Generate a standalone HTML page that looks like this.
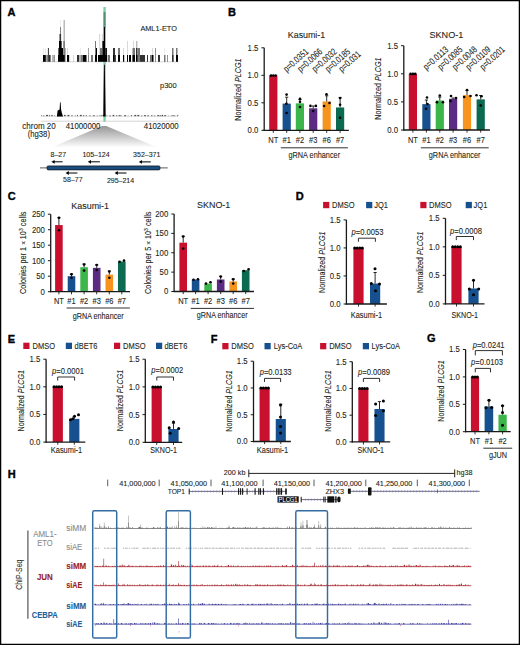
<!DOCTYPE html>
<html><head><meta charset="utf-8"><style>
html,body{margin:0;padding:0;background:#fff;}
body{width:520px;height:645px;overflow:hidden;}
svg{display:block;font-family:"Liberation Sans", sans-serif;}
</style></head><body>
<svg width="520" height="645" viewBox="0 0 520 645">
<rect x="0" y="0" width="520" height="645" fill="#fff"/>
<text x="7.6" y="15.6" font-size="11" fill="#000" font-weight="bold" stroke="#000" stroke-width="0.35">A</text>
<text x="228.0" y="15.8" font-size="11" fill="#000" font-weight="bold" stroke="#000" stroke-width="0.35">B</text>
<text x="7.7" y="200.1" font-size="11" fill="#000" font-weight="bold" stroke="#000" stroke-width="0.35">C</text>
<text x="295.8" y="199.9" font-size="11" fill="#000" font-weight="bold" stroke="#000" stroke-width="0.35">D</text>
<text x="7.8" y="342.7" font-size="11" fill="#000" font-weight="bold" stroke="#000" stroke-width="0.35">E</text>
<text x="210.8" y="342.5" font-size="11" fill="#000" font-weight="bold" stroke="#000" stroke-width="0.35">F</text>
<text x="427.0" y="342.4" font-size="11" fill="#000" font-weight="bold" stroke="#000" stroke-width="0.35">G</text>
<text x="7.8" y="477.5" font-size="11" fill="#000" font-weight="bold" stroke="#000" stroke-width="0.35">H</text>
<text x="287.8" y="38.4" font-size="9.2" fill="#231f20" textLength="37.4" lengthAdjust="spacingAndGlyphs" stroke="#231f20" stroke-width="0.1">Kasumi-1</text>
<text x="429.5" y="38.3" font-size="9.6" fill="#231f20" textLength="33.8" lengthAdjust="spacingAndGlyphs" stroke="#231f20" stroke-width="0.1">SKNO-1</text>
<rect x="269.20" y="75.30" width="8.20" height="55.00" fill="#c8102e"/>
<rect x="282.60" y="103.62" width="8.20" height="26.68" fill="#17508f"/>
<rect x="295.80" y="103.35" width="8.20" height="26.95" fill="#3cb54a"/>
<rect x="309.10" y="108.30" width="8.20" height="22.00" fill="#5b2a82"/>
<rect x="322.60" y="101.43" width="8.20" height="28.88" fill="#f7941d"/>
<rect x="336.00" y="107.48" width="8.20" height="22.83" fill="#0b6a4f"/>
<line x1="264.2" y1="47.8" x2="264.2" y2="130.9" stroke="#1a1a1a" stroke-width="1.3"/>
<line x1="263.59999999999997" y1="130.3" x2="348.9" y2="130.3" stroke="#1a1a1a" stroke-width="1.3"/>
<line x1="261.4" y1="130.3" x2="264.2" y2="130.3" stroke="#1a1a1a" stroke-width="1.0"/>
<text x="258.4" y="133.20000000000002" font-size="8.97" fill="#231f20" text-anchor="end" textLength="10.84" lengthAdjust="spacingAndGlyphs" stroke="#231f20" stroke-width="0.1">0.0</text>
<line x1="261.4" y1="102.80000000000001" x2="264.2" y2="102.80000000000001" stroke="#1a1a1a" stroke-width="1.0"/>
<text x="258.4" y="105.70000000000002" font-size="8.97" fill="#231f20" text-anchor="end" textLength="10.84" lengthAdjust="spacingAndGlyphs" stroke="#231f20" stroke-width="0.1">0.5</text>
<line x1="261.4" y1="75.30000000000001" x2="264.2" y2="75.30000000000001" stroke="#1a1a1a" stroke-width="1.0"/>
<text x="258.4" y="78.20000000000002" font-size="8.97" fill="#231f20" text-anchor="end" textLength="10.84" lengthAdjust="spacingAndGlyphs" stroke="#231f20" stroke-width="0.1">1.0</text>
<line x1="261.4" y1="47.8" x2="264.2" y2="47.8" stroke="#1a1a1a" stroke-width="1.0"/>
<text x="258.4" y="50.699999999999996" font-size="8.97" fill="#231f20" text-anchor="end" textLength="10.84" lengthAdjust="spacingAndGlyphs" stroke="#231f20" stroke-width="0.1">1.5</text>
<line x1="273.3" y1="130.3" x2="273.3" y2="132.9" stroke="#1a1a1a" stroke-width="0.9"/>
<circle cx="271.0" cy="75.6" r="1.3" fill="#000"/>
<circle cx="273.3" cy="75.6" r="1.3" fill="#000"/>
<circle cx="275.6" cy="75.6" r="1.3" fill="#000"/>
<line x1="286.7" y1="130.3" x2="286.7" y2="132.9" stroke="#1a1a1a" stroke-width="0.9"/>
<line x1="286.7" y1="103.625" x2="286.7" y2="97.2" stroke="#111" stroke-width="0.9"/>
<line x1="285.09999999999997" y1="97.2" x2="288.3" y2="97.2" stroke="#111" stroke-width="0.9"/>
<circle cx="286.6" cy="94.6" r="1.3" fill="#000"/>
<circle cx="286.4" cy="103.8" r="1.3" fill="#000"/>
<circle cx="286.6" cy="113.0" r="1.3" fill="#000"/>
<line x1="299.9" y1="130.3" x2="299.9" y2="132.9" stroke="#1a1a1a" stroke-width="0.9"/>
<line x1="299.9" y1="103.35000000000001" x2="299.9" y2="99.5" stroke="#111" stroke-width="0.9"/>
<line x1="298.29999999999995" y1="99.5" x2="301.5" y2="99.5" stroke="#111" stroke-width="0.9"/>
<circle cx="300.0" cy="98.8" r="1.3" fill="#000"/>
<circle cx="300.0" cy="101.8" r="1.3" fill="#000"/>
<circle cx="300.0" cy="107.0" r="1.3" fill="#000"/>
<line x1="313.2" y1="130.3" x2="313.2" y2="132.9" stroke="#1a1a1a" stroke-width="0.9"/>
<line x1="313.2" y1="108.30000000000001" x2="313.2" y2="106.0" stroke="#111" stroke-width="0.9"/>
<line x1="311.59999999999997" y1="106.0" x2="314.8" y2="106.0" stroke="#111" stroke-width="0.9"/>
<circle cx="310.4" cy="105.9" r="1.3" fill="#000"/>
<circle cx="315.9" cy="105.9" r="1.3" fill="#000"/>
<circle cx="313.2" cy="111.0" r="1.3" fill="#000"/>
<line x1="326.7" y1="130.3" x2="326.7" y2="132.9" stroke="#1a1a1a" stroke-width="0.9"/>
<line x1="326.7" y1="101.42500000000001" x2="326.7" y2="95.8" stroke="#111" stroke-width="0.9"/>
<line x1="325.09999999999997" y1="95.8" x2="328.3" y2="95.8" stroke="#111" stroke-width="0.9"/>
<circle cx="326.5" cy="94.3" r="1.3" fill="#000"/>
<circle cx="324.1" cy="106.0" r="1.3" fill="#000"/>
<circle cx="329.5" cy="103.0" r="1.3" fill="#000"/>
<line x1="340.1" y1="130.3" x2="340.1" y2="132.9" stroke="#1a1a1a" stroke-width="0.9"/>
<line x1="340.1" y1="107.47500000000001" x2="340.1" y2="97.7" stroke="#111" stroke-width="0.9"/>
<line x1="338.5" y1="97.7" x2="341.70000000000005" y2="97.7" stroke="#111" stroke-width="0.9"/>
<circle cx="340.1" cy="98.0" r="1.3" fill="#000"/>
<circle cx="340.1" cy="104.8" r="1.3" fill="#000"/>
<circle cx="340.1" cy="117.7" r="1.3" fill="#000"/>
<text transform="translate(241.0,89.5) rotate(-90)" x="0" y="0" font-size="9" fill="#231f20" stroke="#231f20" stroke-width="0.1" text-anchor="middle" textLength="62.3" lengthAdjust="spacingAndGlyphs">Normalized <tspan font-style="italic">PLCG1</tspan></text>
<text x="273.3" y="143.0" font-size="8.62" fill="#231f20" text-anchor="middle" textLength="10.0" lengthAdjust="spacingAndGlyphs" stroke="#231f20" stroke-width="0.1">NT</text>
<text x="286.7" y="143.0" font-size="8.62" fill="#231f20" text-anchor="middle" textLength="8.34" lengthAdjust="spacingAndGlyphs" stroke="#231f20" stroke-width="0.1">#1</text>
<text x="299.9" y="143.0" font-size="8.62" fill="#231f20" text-anchor="middle" textLength="8.34" lengthAdjust="spacingAndGlyphs" stroke="#231f20" stroke-width="0.1">#2</text>
<text x="313.2" y="143.0" font-size="8.62" fill="#231f20" text-anchor="middle" textLength="8.34" lengthAdjust="spacingAndGlyphs" stroke="#231f20" stroke-width="0.1">#3</text>
<text x="326.7" y="143.0" font-size="8.62" fill="#231f20" text-anchor="middle" textLength="8.34" lengthAdjust="spacingAndGlyphs" stroke="#231f20" stroke-width="0.1">#6</text>
<text x="340.1" y="143.0" font-size="8.62" fill="#231f20" text-anchor="middle" textLength="8.34" lengthAdjust="spacingAndGlyphs" stroke="#231f20" stroke-width="0.1">#7</text>
<line x1="280.8" y1="147.8" x2="347.9" y2="147.8" stroke="#1a1a1a" stroke-width="0.9"/>
<text x="314.3" y="157.7" font-size="8.9" fill="#231f20" text-anchor="middle" textLength="51.6" lengthAdjust="spacingAndGlyphs" stroke="#231f20" stroke-width="0.1">gRNA enhancer</text>
<text transform="translate(286.8,72.6) rotate(-42)" font-size="9.4" fill="#231f20" stroke="#231f20" stroke-width="0.1" textLength="30.0" lengthAdjust="spacingAndGlyphs">p=0.0351</text>
<text transform="translate(300.7,72.6) rotate(-42)" font-size="9.4" fill="#231f20" stroke="#231f20" stroke-width="0.1" textLength="30.0" lengthAdjust="spacingAndGlyphs">p=0.0066</text>
<text transform="translate(315.2,72.6) rotate(-42)" font-size="9.4" fill="#231f20" stroke="#231f20" stroke-width="0.1" textLength="30.0" lengthAdjust="spacingAndGlyphs">p=0.0032</text>
<text transform="translate(328.6,72.6) rotate(-42)" font-size="9.4" fill="#231f20" stroke="#231f20" stroke-width="0.1" textLength="30.0" lengthAdjust="spacingAndGlyphs">p=0.0185</text>
<text transform="translate(342.0,72.6) rotate(-42)" font-size="9.4" fill="#231f20" stroke="#231f20" stroke-width="0.1" textLength="26.2" lengthAdjust="spacingAndGlyphs">p=0.031</text>
<rect x="408.80" y="73.80" width="8.20" height="56.20" fill="#c8102e"/>
<rect x="422.30" y="104.15" width="8.20" height="25.85" fill="#17508f"/>
<rect x="435.70" y="100.50" width="8.20" height="29.50" fill="#3cb54a"/>
<rect x="449.00" y="98.81" width="8.20" height="31.19" fill="#5b2a82"/>
<rect x="462.90" y="95.16" width="8.20" height="34.84" fill="#f7941d"/>
<rect x="476.60" y="99.37" width="8.20" height="30.63" fill="#0b6a4f"/>
<line x1="403.8" y1="45.7" x2="403.8" y2="130.6" stroke="#1a1a1a" stroke-width="1.3"/>
<line x1="403.2" y1="130.0" x2="489.9" y2="130.0" stroke="#1a1a1a" stroke-width="1.3"/>
<line x1="401.0" y1="130.0" x2="403.8" y2="130.0" stroke="#1a1a1a" stroke-width="1.0"/>
<text x="398.0" y="132.9" font-size="8.97" fill="#231f20" text-anchor="end" textLength="10.84" lengthAdjust="spacingAndGlyphs" stroke="#231f20" stroke-width="0.1">0.0</text>
<line x1="401.0" y1="101.9" x2="403.8" y2="101.9" stroke="#1a1a1a" stroke-width="1.0"/>
<text x="398.0" y="104.80000000000001" font-size="8.97" fill="#231f20" text-anchor="end" textLength="10.84" lengthAdjust="spacingAndGlyphs" stroke="#231f20" stroke-width="0.1">0.5</text>
<line x1="401.0" y1="73.80000000000001" x2="403.8" y2="73.80000000000001" stroke="#1a1a1a" stroke-width="1.0"/>
<text x="398.0" y="76.70000000000002" font-size="8.97" fill="#231f20" text-anchor="end" textLength="10.84" lengthAdjust="spacingAndGlyphs" stroke="#231f20" stroke-width="0.1">1.0</text>
<line x1="401.0" y1="45.7" x2="403.8" y2="45.7" stroke="#1a1a1a" stroke-width="1.0"/>
<text x="398.0" y="48.6" font-size="8.97" fill="#231f20" text-anchor="end" textLength="10.84" lengthAdjust="spacingAndGlyphs" stroke="#231f20" stroke-width="0.1">1.5</text>
<line x1="412.9" y1="130.0" x2="412.9" y2="132.6" stroke="#1a1a1a" stroke-width="0.9"/>
<circle cx="410.6" cy="73.9" r="1.3" fill="#000"/>
<circle cx="412.9" cy="73.9" r="1.3" fill="#000"/>
<circle cx="415.2" cy="73.9" r="1.3" fill="#000"/>
<line x1="426.4" y1="130.0" x2="426.4" y2="132.6" stroke="#1a1a1a" stroke-width="0.9"/>
<line x1="426.4" y1="104.148" x2="426.4" y2="100.0" stroke="#111" stroke-width="0.9"/>
<line x1="424.79999999999995" y1="100.0" x2="428.0" y2="100.0" stroke="#111" stroke-width="0.9"/>
<circle cx="427.0" cy="97.5" r="1.3" fill="#000"/>
<circle cx="426.0" cy="108.8" r="1.3" fill="#000"/>
<circle cx="427.5" cy="104.0" r="1.3" fill="#000"/>
<line x1="439.8" y1="130.0" x2="439.8" y2="132.6" stroke="#1a1a1a" stroke-width="0.9"/>
<line x1="439.8" y1="100.495" x2="439.8" y2="97.0" stroke="#111" stroke-width="0.9"/>
<line x1="438.2" y1="97.0" x2="441.40000000000003" y2="97.0" stroke="#111" stroke-width="0.9"/>
<circle cx="439.8" cy="95.5" r="1.3" fill="#000"/>
<circle cx="437.0" cy="102.3" r="1.3" fill="#000"/>
<circle cx="443.0" cy="102.3" r="1.3" fill="#000"/>
<line x1="453.1" y1="130.0" x2="453.1" y2="132.6" stroke="#1a1a1a" stroke-width="0.9"/>
<line x1="453.1" y1="98.809" x2="453.1" y2="98.0" stroke="#111" stroke-width="0.9"/>
<line x1="451.5" y1="98.0" x2="454.70000000000005" y2="98.0" stroke="#111" stroke-width="0.9"/>
<circle cx="451.0" cy="96.0" r="1.3" fill="#000"/>
<circle cx="450.5" cy="101.0" r="1.3" fill="#000"/>
<circle cx="456.0" cy="98.0" r="1.3" fill="#000"/>
<line x1="467.0" y1="130.0" x2="467.0" y2="132.6" stroke="#1a1a1a" stroke-width="0.9"/>
<line x1="467.0" y1="95.156" x2="467.0" y2="90.5" stroke="#111" stroke-width="0.9"/>
<line x1="465.4" y1="90.5" x2="468.6" y2="90.5" stroke="#111" stroke-width="0.9"/>
<circle cx="467.0" cy="90.0" r="1.3" fill="#000"/>
<circle cx="464.2" cy="97.0" r="1.3" fill="#000"/>
<circle cx="470.5" cy="96.0" r="1.3" fill="#000"/>
<line x1="480.7" y1="130.0" x2="480.7" y2="132.6" stroke="#1a1a1a" stroke-width="0.9"/>
<line x1="480.7" y1="99.371" x2="480.7" y2="95.5" stroke="#111" stroke-width="0.9"/>
<line x1="479.09999999999997" y1="95.5" x2="482.3" y2="95.5" stroke="#111" stroke-width="0.9"/>
<circle cx="476.5" cy="95.3" r="1.3" fill="#000"/>
<circle cx="481.5" cy="96.3" r="1.3" fill="#000"/>
<circle cx="480.7" cy="105.5" r="1.3" fill="#000"/>
<text transform="translate(380.5,88.5) rotate(-90)" x="0" y="0" font-size="9" fill="#231f20" stroke="#231f20" stroke-width="0.1" text-anchor="middle" textLength="62.3" lengthAdjust="spacingAndGlyphs">Normalized <tspan font-style="italic">PLCG1</tspan></text>
<text x="412.9" y="142.8" font-size="8.62" fill="#231f20" text-anchor="middle" textLength="10.0" lengthAdjust="spacingAndGlyphs" stroke="#231f20" stroke-width="0.1">NT</text>
<text x="426.4" y="142.8" font-size="8.62" fill="#231f20" text-anchor="middle" textLength="8.34" lengthAdjust="spacingAndGlyphs" stroke="#231f20" stroke-width="0.1">#1</text>
<text x="439.8" y="142.8" font-size="8.62" fill="#231f20" text-anchor="middle" textLength="8.34" lengthAdjust="spacingAndGlyphs" stroke="#231f20" stroke-width="0.1">#2</text>
<text x="453.1" y="142.8" font-size="8.62" fill="#231f20" text-anchor="middle" textLength="8.34" lengthAdjust="spacingAndGlyphs" stroke="#231f20" stroke-width="0.1">#3</text>
<text x="467.0" y="142.8" font-size="8.62" fill="#231f20" text-anchor="middle" textLength="8.34" lengthAdjust="spacingAndGlyphs" stroke="#231f20" stroke-width="0.1">#6</text>
<text x="480.7" y="142.8" font-size="8.62" fill="#231f20" text-anchor="middle" textLength="8.34" lengthAdjust="spacingAndGlyphs" stroke="#231f20" stroke-width="0.1">#7</text>
<line x1="420.8" y1="147.8" x2="488.7" y2="147.8" stroke="#1a1a1a" stroke-width="0.9"/>
<text x="454.6" y="157.7" font-size="8.9" fill="#231f20" text-anchor="middle" textLength="51.6" lengthAdjust="spacingAndGlyphs" stroke="#231f20" stroke-width="0.1">gRNA enhancer</text>
<text transform="translate(426.6,70.5) rotate(-42)" font-size="9.4" fill="#231f20" stroke="#231f20" stroke-width="0.1" textLength="30.0" lengthAdjust="spacingAndGlyphs">p=0.0113</text>
<text transform="translate(440.9,70.5) rotate(-42)" font-size="9.4" fill="#231f20" stroke="#231f20" stroke-width="0.1" textLength="30.0" lengthAdjust="spacingAndGlyphs">p=0.0085</text>
<text transform="translate(455.4,70.5) rotate(-42)" font-size="9.4" fill="#231f20" stroke="#231f20" stroke-width="0.1" textLength="30.0" lengthAdjust="spacingAndGlyphs">p=0.0048</text>
<text transform="translate(469.0,70.5) rotate(-42)" font-size="9.4" fill="#231f20" stroke="#231f20" stroke-width="0.1" textLength="30.0" lengthAdjust="spacingAndGlyphs">p=0.0109</text>
<text transform="translate(483.2,70.5) rotate(-42)" font-size="9.4" fill="#231f20" stroke="#231f20" stroke-width="0.1" textLength="30.0" lengthAdjust="spacingAndGlyphs">p=0.0201</text>
<text x="71.3" y="208.7" font-size="9.2" fill="#231f20" textLength="37.7" lengthAdjust="spacingAndGlyphs" stroke="#231f20" stroke-width="0.1">Kasumi-1</text>
<text x="197.1" y="208.4" font-size="9.6" fill="#231f20" textLength="33.2" lengthAdjust="spacingAndGlyphs" stroke="#231f20" stroke-width="0.1">SKNO-1</text>
<rect x="55.10" y="225.05" width="7.60" height="66.65" fill="#c8102e"/>
<rect x="67.70" y="276.20" width="7.60" height="15.50" fill="#17508f"/>
<rect x="80.30" y="267.21" width="7.60" height="24.49" fill="#3cb54a"/>
<rect x="92.90" y="267.83" width="7.60" height="23.87" fill="#5b2a82"/>
<rect x="105.50" y="274.65" width="7.60" height="17.05" fill="#f7941d"/>
<rect x="118.00" y="261.47" width="7.60" height="30.23" fill="#0b6a4f"/>
<line x1="50.7" y1="214.2" x2="50.7" y2="292.3" stroke="#1a1a1a" stroke-width="1.3"/>
<line x1="50.1" y1="291.7" x2="130.0" y2="291.7" stroke="#1a1a1a" stroke-width="1.3"/>
<line x1="47.900000000000006" y1="291.7" x2="50.7" y2="291.7" stroke="#1a1a1a" stroke-width="1.0"/>
<text x="44.900000000000006" y="294.59999999999997" font-size="8.97" fill="#231f20" text-anchor="end" textLength="4.34" lengthAdjust="spacingAndGlyphs" stroke="#231f20" stroke-width="0.1">0</text>
<line x1="47.900000000000006" y1="276.2" x2="50.7" y2="276.2" stroke="#1a1a1a" stroke-width="1.0"/>
<text x="44.900000000000006" y="279.09999999999997" font-size="8.97" fill="#231f20" text-anchor="end" textLength="8.68" lengthAdjust="spacingAndGlyphs" stroke="#231f20" stroke-width="0.1">50</text>
<line x1="47.900000000000006" y1="260.7" x2="50.7" y2="260.7" stroke="#1a1a1a" stroke-width="1.0"/>
<text x="44.900000000000006" y="263.59999999999997" font-size="8.97" fill="#231f20" text-anchor="end" textLength="13.01" lengthAdjust="spacingAndGlyphs" stroke="#231f20" stroke-width="0.1">100</text>
<line x1="47.900000000000006" y1="245.2" x2="50.7" y2="245.2" stroke="#1a1a1a" stroke-width="1.0"/>
<text x="44.900000000000006" y="248.1" font-size="8.97" fill="#231f20" text-anchor="end" textLength="13.01" lengthAdjust="spacingAndGlyphs" stroke="#231f20" stroke-width="0.1">150</text>
<line x1="47.900000000000006" y1="229.7" x2="50.7" y2="229.7" stroke="#1a1a1a" stroke-width="1.0"/>
<text x="44.900000000000006" y="232.6" font-size="8.97" fill="#231f20" text-anchor="end" textLength="13.01" lengthAdjust="spacingAndGlyphs" stroke="#231f20" stroke-width="0.1">200</text>
<line x1="47.900000000000006" y1="214.2" x2="50.7" y2="214.2" stroke="#1a1a1a" stroke-width="1.0"/>
<text x="44.900000000000006" y="217.1" font-size="8.97" fill="#231f20" text-anchor="end" textLength="13.01" lengthAdjust="spacingAndGlyphs" stroke="#231f20" stroke-width="0.1">250</text>
<line x1="58.9" y1="291.7" x2="58.9" y2="294.3" stroke="#1a1a1a" stroke-width="0.9"/>
<line x1="58.9" y1="225.04999999999998" x2="58.9" y2="217.8" stroke="#111" stroke-width="0.9"/>
<line x1="57.3" y1="217.8" x2="60.5" y2="217.8" stroke="#111" stroke-width="0.9"/>
<circle cx="59" cy="217.8" r="1.3" fill="#000"/>
<circle cx="59" cy="230.3" r="1.3" fill="#000"/>
<line x1="71.5" y1="291.7" x2="71.5" y2="294.3" stroke="#1a1a1a" stroke-width="0.9"/>
<line x1="71.5" y1="276.2" x2="71.5" y2="274.0" stroke="#111" stroke-width="0.9"/>
<line x1="69.9" y1="274.0" x2="73.1" y2="274.0" stroke="#111" stroke-width="0.9"/>
<circle cx="71.5" cy="274.2" r="1.3" fill="#000"/>
<circle cx="71.5" cy="277.7" r="1.3" fill="#000"/>
<line x1="84.1" y1="291.7" x2="84.1" y2="294.3" stroke="#1a1a1a" stroke-width="0.9"/>
<line x1="84.1" y1="267.21" x2="84.1" y2="264.0" stroke="#111" stroke-width="0.9"/>
<line x1="82.5" y1="264.0" x2="85.69999999999999" y2="264.0" stroke="#111" stroke-width="0.9"/>
<circle cx="84.1" cy="264.5" r="1.3" fill="#000"/>
<circle cx="84.1" cy="270.6" r="1.3" fill="#000"/>
<line x1="96.7" y1="291.7" x2="96.7" y2="294.3" stroke="#1a1a1a" stroke-width="0.9"/>
<line x1="96.7" y1="267.83" x2="96.7" y2="264.9" stroke="#111" stroke-width="0.9"/>
<line x1="95.10000000000001" y1="264.9" x2="98.3" y2="264.9" stroke="#111" stroke-width="0.9"/>
<circle cx="96.7" cy="265.0" r="1.3" fill="#000"/>
<circle cx="96.7" cy="270.0" r="1.3" fill="#000"/>
<line x1="109.3" y1="291.7" x2="109.3" y2="294.3" stroke="#1a1a1a" stroke-width="0.9"/>
<line x1="109.3" y1="274.65" x2="109.3" y2="271.0" stroke="#111" stroke-width="0.9"/>
<line x1="107.7" y1="271.0" x2="110.89999999999999" y2="271.0" stroke="#111" stroke-width="0.9"/>
<circle cx="109.3" cy="271.5" r="1.3" fill="#000"/>
<circle cx="109.3" cy="277.7" r="1.3" fill="#000"/>
<line x1="121.8" y1="291.7" x2="121.8" y2="294.3" stroke="#1a1a1a" stroke-width="0.9"/>
<circle cx="119.6" cy="261.8" r="1.3" fill="#000"/>
<circle cx="124.0" cy="260.6" r="1.3" fill="#000"/>
<text transform="translate(26.0,252.8) rotate(-90)" x="0" y="0" font-size="9" fill="#231f20" stroke="#231f20" stroke-width="0.1" text-anchor="middle" textLength="82.5" lengthAdjust="spacingAndGlyphs">Colonies per 1 <tspan font-size="7.5">×</tspan> 10<tspan dy="-3.2" font-size="6.2">3</tspan><tspan dy="3.2"> cells</tspan></text>
<text x="58.9" y="303.7" font-size="8.62" fill="#231f20" text-anchor="middle" textLength="10.0" lengthAdjust="spacingAndGlyphs" stroke="#231f20" stroke-width="0.1">NT</text>
<text x="71.5" y="303.7" font-size="8.62" fill="#231f20" text-anchor="middle" textLength="8.34" lengthAdjust="spacingAndGlyphs" stroke="#231f20" stroke-width="0.1">#1</text>
<text x="84.1" y="303.7" font-size="8.62" fill="#231f20" text-anchor="middle" textLength="8.34" lengthAdjust="spacingAndGlyphs" stroke="#231f20" stroke-width="0.1">#2</text>
<text x="96.7" y="303.7" font-size="8.62" fill="#231f20" text-anchor="middle" textLength="8.34" lengthAdjust="spacingAndGlyphs" stroke="#231f20" stroke-width="0.1">#3</text>
<text x="109.3" y="303.7" font-size="8.62" fill="#231f20" text-anchor="middle" textLength="8.34" lengthAdjust="spacingAndGlyphs" stroke="#231f20" stroke-width="0.1">#6</text>
<text x="121.8" y="303.7" font-size="8.62" fill="#231f20" text-anchor="middle" textLength="8.34" lengthAdjust="spacingAndGlyphs" stroke="#231f20" stroke-width="0.1">#7</text>
<line x1="66.6" y1="308.0" x2="129.8" y2="308.0" stroke="#1a1a1a" stroke-width="0.9"/>
<text x="98.2" y="318.5" font-size="8.9" fill="#231f20" text-anchor="middle" textLength="51.0" lengthAdjust="spacingAndGlyphs" stroke="#231f20" stroke-width="0.1">gRNA enhancer</text>
<rect x="179.40" y="242.68" width="7.60" height="48.82" fill="#c8102e"/>
<rect x="191.80" y="279.49" width="7.60" height="12.01" fill="#17508f"/>
<rect x="204.30" y="283.56" width="7.60" height="7.94" fill="#3cb54a"/>
<rect x="216.90" y="279.49" width="7.60" height="12.01" fill="#5b2a82"/>
<rect x="229.40" y="281.43" width="7.60" height="10.07" fill="#f7941d"/>
<rect x="241.90" y="270.19" width="7.60" height="21.31" fill="#0b6a4f"/>
<line x1="174.1" y1="214.0" x2="174.1" y2="292.1" stroke="#1a1a1a" stroke-width="1.3"/>
<line x1="173.5" y1="291.5" x2="254.0" y2="291.5" stroke="#1a1a1a" stroke-width="1.3"/>
<line x1="171.29999999999998" y1="291.5" x2="174.1" y2="291.5" stroke="#1a1a1a" stroke-width="1.0"/>
<text x="168.29999999999998" y="294.4" font-size="8.97" fill="#231f20" text-anchor="end" textLength="4.34" lengthAdjust="spacingAndGlyphs" stroke="#231f20" stroke-width="0.1">0</text>
<line x1="171.29999999999998" y1="272.125" x2="174.1" y2="272.125" stroke="#1a1a1a" stroke-width="1.0"/>
<text x="168.29999999999998" y="275.025" font-size="8.97" fill="#231f20" text-anchor="end" textLength="8.68" lengthAdjust="spacingAndGlyphs" stroke="#231f20" stroke-width="0.1">50</text>
<line x1="171.29999999999998" y1="252.75" x2="174.1" y2="252.75" stroke="#1a1a1a" stroke-width="1.0"/>
<text x="168.29999999999998" y="255.65" font-size="8.97" fill="#231f20" text-anchor="end" textLength="13.01" lengthAdjust="spacingAndGlyphs" stroke="#231f20" stroke-width="0.1">100</text>
<line x1="171.29999999999998" y1="233.375" x2="174.1" y2="233.375" stroke="#1a1a1a" stroke-width="1.0"/>
<text x="168.29999999999998" y="236.275" font-size="8.97" fill="#231f20" text-anchor="end" textLength="13.01" lengthAdjust="spacingAndGlyphs" stroke="#231f20" stroke-width="0.1">150</text>
<line x1="171.29999999999998" y1="214.0" x2="174.1" y2="214.0" stroke="#1a1a1a" stroke-width="1.0"/>
<text x="168.29999999999998" y="216.9" font-size="8.97" fill="#231f20" text-anchor="end" textLength="13.01" lengthAdjust="spacingAndGlyphs" stroke="#231f20" stroke-width="0.1">200</text>
<line x1="183.2" y1="291.5" x2="183.2" y2="294.1" stroke="#1a1a1a" stroke-width="0.9"/>
<line x1="183.2" y1="242.675" x2="183.2" y2="236.2" stroke="#111" stroke-width="0.9"/>
<line x1="181.6" y1="236.2" x2="184.79999999999998" y2="236.2" stroke="#111" stroke-width="0.9"/>
<circle cx="183.2" cy="236.5" r="1.3" fill="#000"/>
<circle cx="183.2" cy="248.5" r="1.3" fill="#000"/>
<line x1="195.6" y1="291.5" x2="195.6" y2="294.1" stroke="#1a1a1a" stroke-width="0.9"/>
<circle cx="193.5" cy="279.8" r="1.3" fill="#000"/>
<circle cx="198.0" cy="279.2" r="1.3" fill="#000"/>
<line x1="208.1" y1="291.5" x2="208.1" y2="294.1" stroke="#1a1a1a" stroke-width="0.9"/>
<circle cx="206.0" cy="283.6" r="1.3" fill="#000"/>
<circle cx="210.5" cy="282.2" r="1.3" fill="#000"/>
<line x1="220.7" y1="291.5" x2="220.7" y2="294.1" stroke="#1a1a1a" stroke-width="0.9"/>
<line x1="220.7" y1="279.4875" x2="220.7" y2="276.4" stroke="#111" stroke-width="0.9"/>
<line x1="219.1" y1="276.4" x2="222.29999999999998" y2="276.4" stroke="#111" stroke-width="0.9"/>
<circle cx="220.7" cy="276.6" r="1.3" fill="#000"/>
<circle cx="220.7" cy="281.5" r="1.3" fill="#000"/>
<line x1="233.2" y1="291.5" x2="233.2" y2="294.1" stroke="#1a1a1a" stroke-width="0.9"/>
<line x1="233.2" y1="281.425" x2="233.2" y2="279.0" stroke="#111" stroke-width="0.9"/>
<line x1="231.6" y1="279.0" x2="234.79999999999998" y2="279.0" stroke="#111" stroke-width="0.9"/>
<circle cx="233.2" cy="279.3" r="1.3" fill="#000"/>
<circle cx="233.2" cy="283.5" r="1.3" fill="#000"/>
<line x1="245.7" y1="291.5" x2="245.7" y2="294.1" stroke="#1a1a1a" stroke-width="0.9"/>
<circle cx="243.8" cy="271.0" r="1.3" fill="#000"/>
<circle cx="248.6" cy="269.3" r="1.3" fill="#000"/>
<text transform="translate(150.8,252.7) rotate(-90)" x="0" y="0" font-size="9" fill="#231f20" stroke="#231f20" stroke-width="0.1" text-anchor="middle" textLength="82.5" lengthAdjust="spacingAndGlyphs">Colonies per 5 <tspan font-size="7.5">×</tspan> 10<tspan dy="-3.2" font-size="6.2">3</tspan><tspan dy="3.2"> cells</tspan></text>
<text x="183.2" y="303.5" font-size="8.62" fill="#231f20" text-anchor="middle" textLength="10.0" lengthAdjust="spacingAndGlyphs" stroke="#231f20" stroke-width="0.1">NT</text>
<text x="195.6" y="303.5" font-size="8.62" fill="#231f20" text-anchor="middle" textLength="8.34" lengthAdjust="spacingAndGlyphs" stroke="#231f20" stroke-width="0.1">#1</text>
<text x="208.1" y="303.5" font-size="8.62" fill="#231f20" text-anchor="middle" textLength="8.34" lengthAdjust="spacingAndGlyphs" stroke="#231f20" stroke-width="0.1">#2</text>
<text x="220.7" y="303.5" font-size="8.62" fill="#231f20" text-anchor="middle" textLength="8.34" lengthAdjust="spacingAndGlyphs" stroke="#231f20" stroke-width="0.1">#3</text>
<text x="233.2" y="303.5" font-size="8.62" fill="#231f20" text-anchor="middle" textLength="8.34" lengthAdjust="spacingAndGlyphs" stroke="#231f20" stroke-width="0.1">#6</text>
<text x="245.7" y="303.5" font-size="8.62" fill="#231f20" text-anchor="middle" textLength="8.34" lengthAdjust="spacingAndGlyphs" stroke="#231f20" stroke-width="0.1">#7</text>
<line x1="190.7" y1="308.4" x2="254.0" y2="308.4" stroke="#1a1a1a" stroke-width="0.9"/>
<text x="222.2" y="318.3" font-size="8.9" fill="#231f20" text-anchor="middle" textLength="50.7" lengthAdjust="spacingAndGlyphs" stroke="#231f20" stroke-width="0.1">gRNA enhancer</text>
<rect x="323.10" y="201.90" width="6.20" height="6.30" fill="#c8102e"/>
<text x="332.0" y="207.8" font-size="8.62" fill="#231f20" textLength="22.5" lengthAdjust="spacingAndGlyphs" stroke="#231f20" stroke-width="0.1">DMSO</text>
<rect x="366.10" y="201.90" width="6.20" height="6.30" fill="#17508f"/>
<text x="374.3" y="207.8" font-size="8.62" fill="#231f20" textLength="13.75" lengthAdjust="spacingAndGlyphs" stroke="#231f20" stroke-width="0.1">JQ1</text>
<rect x="420.30" y="201.90" width="6.20" height="6.30" fill="#c8102e"/>
<text x="429.1" y="207.8" font-size="8.62" fill="#231f20" textLength="22.5" lengthAdjust="spacingAndGlyphs" stroke="#231f20" stroke-width="0.1">DMSO</text>
<rect x="465.70" y="201.90" width="6.20" height="6.30" fill="#17508f"/>
<text x="473.6" y="207.8" font-size="8.62" fill="#231f20" textLength="13.75" lengthAdjust="spacingAndGlyphs" stroke="#231f20" stroke-width="0.1">JQ1</text>
<rect x="353.40" y="247.93" width="10.20" height="56.07" fill="#c8102e"/>
<rect x="370.00" y="283.54" width="10.20" height="20.46" fill="#17508f"/>
<line x1="346.4" y1="219.9" x2="346.4" y2="304.6" stroke="#1a1a1a" stroke-width="1.3"/>
<line x1="345.79999999999995" y1="304.0" x2="386.9" y2="304.0" stroke="#1a1a1a" stroke-width="1.3"/>
<line x1="343.59999999999997" y1="304.0" x2="346.4" y2="304.0" stroke="#1a1a1a" stroke-width="1.0"/>
<text x="340.59999999999997" y="306.9" font-size="8.97" fill="#231f20" text-anchor="end" textLength="10.84" lengthAdjust="spacingAndGlyphs" stroke="#231f20" stroke-width="0.1">0.0</text>
<line x1="343.59999999999997" y1="275.9666666666667" x2="346.4" y2="275.9666666666667" stroke="#1a1a1a" stroke-width="1.0"/>
<text x="340.59999999999997" y="278.8666666666667" font-size="8.97" fill="#231f20" text-anchor="end" textLength="10.84" lengthAdjust="spacingAndGlyphs" stroke="#231f20" stroke-width="0.1">0.5</text>
<line x1="343.59999999999997" y1="247.93333333333334" x2="346.4" y2="247.93333333333334" stroke="#1a1a1a" stroke-width="1.0"/>
<text x="340.59999999999997" y="250.83333333333334" font-size="8.97" fill="#231f20" text-anchor="end" textLength="10.84" lengthAdjust="spacingAndGlyphs" stroke="#231f20" stroke-width="0.1">1.0</text>
<line x1="343.59999999999997" y1="219.9" x2="346.4" y2="219.9" stroke="#1a1a1a" stroke-width="1.0"/>
<text x="340.59999999999997" y="222.8" font-size="8.97" fill="#231f20" text-anchor="end" textLength="10.84" lengthAdjust="spacingAndGlyphs" stroke="#231f20" stroke-width="0.1">1.5</text>
<line x1="358.5" y1="304.0" x2="358.5" y2="306.6" stroke="#1a1a1a" stroke-width="0.9"/>
<circle cx="354.7" cy="247.93333333333334" r="1.5" fill="#000"/>
<circle cx="357.23333333333335" cy="247.93333333333334" r="1.5" fill="#000"/>
<circle cx="359.76666666666665" cy="247.93333333333334" r="1.5" fill="#000"/>
<circle cx="362.3" cy="247.93333333333334" r="1.5" fill="#000"/>
<line x1="375.1" y1="304.0" x2="375.1" y2="306.6" stroke="#1a1a1a" stroke-width="0.9"/>
<line x1="375.1" y1="283.53566666666666" x2="375.1" y2="272.5" stroke="#111" stroke-width="0.9"/>
<line x1="373.5" y1="272.5" x2="376.70000000000005" y2="272.5" stroke="#111" stroke-width="0.9"/>
<circle cx="375.0" cy="268.7" r="1.5" fill="#000"/>
<circle cx="371.3" cy="283.6" r="1.5" fill="#000"/>
<circle cx="379.5" cy="284.0" r="1.5" fill="#000"/>
<circle cx="375.5" cy="290.7" r="1.5" fill="#000"/>
<text transform="translate(324.8,262.2) rotate(-90)" x="0" y="0" font-size="9" fill="#231f20" stroke="#231f20" stroke-width="0.1" text-anchor="middle" textLength="61.5" lengthAdjust="spacingAndGlyphs">Normalized <tspan font-style="italic">PLCG1</tspan></text>
<path d="M358.4,241.79999999999998 V238.2 H375.4 V241.79999999999998" fill="none" stroke="#1a1a1a" stroke-width="0.9"/>
<text x="351.6" y="235.2" font-size="8.74" fill="#231f20" textLength="31.91" lengthAdjust="spacingAndGlyphs" stroke="#231f20" stroke-width="0.1"><tspan font-style="italic">p</tspan>=0.0053</text>
<text x="366.4" y="317.5" font-size="8.97" fill="#231f20" text-anchor="middle" textLength="31.4" lengthAdjust="spacingAndGlyphs" stroke="#231f20" stroke-width="0.1">Kasumi-1</text>
<rect x="451.40" y="246.83" width="10.20" height="57.07" fill="#c8102e"/>
<rect x="468.40" y="288.49" width="10.20" height="15.41" fill="#17508f"/>
<line x1="445.5" y1="218.3" x2="445.5" y2="304.5" stroke="#1a1a1a" stroke-width="1.3"/>
<line x1="444.9" y1="303.9" x2="484.5" y2="303.9" stroke="#1a1a1a" stroke-width="1.3"/>
<line x1="442.7" y1="303.9" x2="445.5" y2="303.9" stroke="#1a1a1a" stroke-width="1.0"/>
<text x="439.7" y="306.79999999999995" font-size="8.97" fill="#231f20" text-anchor="end" textLength="10.84" lengthAdjust="spacingAndGlyphs" stroke="#231f20" stroke-width="0.1">0.0</text>
<line x1="442.7" y1="275.3666666666667" x2="445.5" y2="275.3666666666667" stroke="#1a1a1a" stroke-width="1.0"/>
<text x="439.7" y="278.26666666666665" font-size="8.97" fill="#231f20" text-anchor="end" textLength="10.84" lengthAdjust="spacingAndGlyphs" stroke="#231f20" stroke-width="0.1">0.5</text>
<line x1="442.7" y1="246.83333333333334" x2="445.5" y2="246.83333333333334" stroke="#1a1a1a" stroke-width="1.0"/>
<text x="439.7" y="249.73333333333335" font-size="8.97" fill="#231f20" text-anchor="end" textLength="10.84" lengthAdjust="spacingAndGlyphs" stroke="#231f20" stroke-width="0.1">1.0</text>
<line x1="442.7" y1="218.3" x2="445.5" y2="218.3" stroke="#1a1a1a" stroke-width="1.0"/>
<text x="439.7" y="221.20000000000002" font-size="8.97" fill="#231f20" text-anchor="end" textLength="10.84" lengthAdjust="spacingAndGlyphs" stroke="#231f20" stroke-width="0.1">1.5</text>
<line x1="456.5" y1="303.9" x2="456.5" y2="306.5" stroke="#1a1a1a" stroke-width="0.9"/>
<circle cx="452.7" cy="246.83333333333334" r="1.5" fill="#000"/>
<circle cx="455.23333333333335" cy="246.83333333333334" r="1.5" fill="#000"/>
<circle cx="457.76666666666665" cy="246.83333333333334" r="1.5" fill="#000"/>
<circle cx="460.3" cy="246.83333333333334" r="1.5" fill="#000"/>
<line x1="473.5" y1="303.9" x2="473.5" y2="306.5" stroke="#1a1a1a" stroke-width="0.9"/>
<line x1="473.5" y1="288.49199999999996" x2="473.5" y2="280.3" stroke="#111" stroke-width="0.9"/>
<line x1="471.9" y1="280.3" x2="475.1" y2="280.3" stroke="#111" stroke-width="0.9"/>
<circle cx="473.5" cy="280.2" r="1.5" fill="#000"/>
<circle cx="469.3" cy="289.0" r="1.5" fill="#000"/>
<circle cx="478.7" cy="289.0" r="1.5" fill="#000"/>
<circle cx="473.5" cy="294.8" r="1.5" fill="#000"/>
<text transform="translate(422.5,262.3) rotate(-90)" x="0" y="0" font-size="9" fill="#231f20" stroke="#231f20" stroke-width="0.1" text-anchor="middle" textLength="61.5" lengthAdjust="spacingAndGlyphs">Normalized <tspan font-style="italic">PLCG1</tspan></text>
<path d="M456.3,240.1 V236.5 H473.5 V240.1" fill="none" stroke="#1a1a1a" stroke-width="0.9"/>
<text x="450.0" y="233.7" font-size="8.74" fill="#231f20" textLength="31.91" lengthAdjust="spacingAndGlyphs" stroke="#231f20" stroke-width="0.1"><tspan font-style="italic">p</tspan>=0.0008</text>
<text x="464.8" y="317.5" font-size="8.97" fill="#231f20" text-anchor="middle" textLength="26.5" lengthAdjust="spacingAndGlyphs" stroke="#231f20" stroke-width="0.1">SKNO-1</text>
<rect x="23.30" y="342.70" width="6.20" height="6.30" fill="#c8102e"/>
<text x="32.6" y="348.59999999999997" font-size="8.62" fill="#231f20" textLength="22.5" lengthAdjust="spacingAndGlyphs" stroke="#231f20" stroke-width="0.1">DMSO</text>
<rect x="65.80" y="342.70" width="6.20" height="6.30" fill="#17508f"/>
<text x="74.6" y="348.59999999999997" font-size="8.62" fill="#231f20" textLength="22.93" lengthAdjust="spacingAndGlyphs" stroke="#231f20" stroke-width="0.1">dBET6</text>
<rect x="114.00" y="342.70" width="6.20" height="6.30" fill="#c8102e"/>
<text x="123.1" y="348.59999999999997" font-size="8.62" fill="#231f20" textLength="22.5" lengthAdjust="spacingAndGlyphs" stroke="#231f20" stroke-width="0.1">DMSO</text>
<rect x="156.00" y="342.70" width="6.20" height="6.30" fill="#17508f"/>
<text x="164.4" y="348.59999999999997" font-size="8.62" fill="#231f20" textLength="22.93" lengthAdjust="spacingAndGlyphs" stroke="#231f20" stroke-width="0.1">dBET6</text>
<rect x="52.70" y="386.83" width="10.20" height="55.27" fill="#c8102e"/>
<rect x="69.20" y="418.89" width="10.20" height="23.21" fill="#17508f"/>
<line x1="46.1" y1="359.2" x2="46.1" y2="442.70000000000005" stroke="#1a1a1a" stroke-width="1.3"/>
<line x1="45.5" y1="442.1" x2="85.3" y2="442.1" stroke="#1a1a1a" stroke-width="1.3"/>
<line x1="43.300000000000004" y1="442.1" x2="46.1" y2="442.1" stroke="#1a1a1a" stroke-width="1.0"/>
<text x="40.300000000000004" y="445.0" font-size="8.97" fill="#231f20" text-anchor="end" textLength="10.84" lengthAdjust="spacingAndGlyphs" stroke="#231f20" stroke-width="0.1">0.0</text>
<line x1="43.300000000000004" y1="414.4666666666667" x2="46.1" y2="414.4666666666667" stroke="#1a1a1a" stroke-width="1.0"/>
<text x="40.300000000000004" y="417.3666666666667" font-size="8.97" fill="#231f20" text-anchor="end" textLength="10.84" lengthAdjust="spacingAndGlyphs" stroke="#231f20" stroke-width="0.1">0.5</text>
<line x1="43.300000000000004" y1="386.8333333333333" x2="46.1" y2="386.8333333333333" stroke="#1a1a1a" stroke-width="1.0"/>
<text x="40.300000000000004" y="389.7333333333333" font-size="8.97" fill="#231f20" text-anchor="end" textLength="10.84" lengthAdjust="spacingAndGlyphs" stroke="#231f20" stroke-width="0.1">1.0</text>
<line x1="43.300000000000004" y1="359.2" x2="46.1" y2="359.2" stroke="#1a1a1a" stroke-width="1.0"/>
<text x="40.300000000000004" y="362.09999999999997" font-size="8.97" fill="#231f20" text-anchor="end" textLength="10.84" lengthAdjust="spacingAndGlyphs" stroke="#231f20" stroke-width="0.1">1.5</text>
<line x1="57.8" y1="442.1" x2="57.8" y2="444.70000000000005" stroke="#1a1a1a" stroke-width="0.9"/>
<circle cx="53.99999999999999" cy="386.8333333333333" r="1.5" fill="#000"/>
<circle cx="56.533333333333324" cy="386.8333333333333" r="1.5" fill="#000"/>
<circle cx="59.06666666666666" cy="386.8333333333333" r="1.5" fill="#000"/>
<circle cx="61.599999999999994" cy="386.8333333333333" r="1.5" fill="#000"/>
<line x1="74.3" y1="442.1" x2="74.3" y2="444.70000000000005" stroke="#1a1a1a" stroke-width="0.9"/>
<line x1="74.3" y1="418.88800000000003" x2="74.3" y2="416.5" stroke="#111" stroke-width="0.9"/>
<line x1="72.7" y1="416.5" x2="75.89999999999999" y2="416.5" stroke="#111" stroke-width="0.9"/>
<circle cx="70.5" cy="419.7" r="1.5" fill="#000"/>
<circle cx="74.5" cy="416.3" r="1.5" fill="#000"/>
<circle cx="78.5" cy="414.8" r="1.5" fill="#000"/>
<circle cx="72.8" cy="418.8" r="1.5" fill="#000"/>
<text transform="translate(23.5,400.7) rotate(-90)" x="0" y="0" font-size="9" fill="#231f20" stroke="#231f20" stroke-width="0.1" text-anchor="middle" textLength="61.5" lengthAdjust="spacingAndGlyphs">Normalized <tspan font-style="italic">PLCG1</tspan></text>
<path d="M57.7,380.6 V377.0 H74.6 V380.6" fill="none" stroke="#1a1a1a" stroke-width="0.9"/>
<text x="52.1" y="373.7" font-size="8.74" fill="#231f20" textLength="31.91" lengthAdjust="spacingAndGlyphs" stroke="#231f20" stroke-width="0.1"><tspan font-style="italic">p</tspan>=0.0001</text>
<text x="66.5" y="453.4" font-size="8.97" fill="#231f20" text-anchor="middle" textLength="31.4" lengthAdjust="spacingAndGlyphs" stroke="#231f20" stroke-width="0.1">Kasumi-1</text>
<rect x="151.60" y="386.90" width="10.20" height="55.40" fill="#c8102e"/>
<rect x="168.40" y="429.00" width="10.20" height="13.30" fill="#17508f"/>
<line x1="145.3" y1="359.2" x2="145.3" y2="442.90000000000003" stroke="#1a1a1a" stroke-width="1.3"/>
<line x1="144.70000000000002" y1="442.3" x2="182.2" y2="442.3" stroke="#1a1a1a" stroke-width="1.3"/>
<line x1="142.5" y1="442.3" x2="145.3" y2="442.3" stroke="#1a1a1a" stroke-width="1.0"/>
<text x="139.5" y="445.2" font-size="8.97" fill="#231f20" text-anchor="end" textLength="10.84" lengthAdjust="spacingAndGlyphs" stroke="#231f20" stroke-width="0.1">0.0</text>
<line x1="142.5" y1="414.6" x2="145.3" y2="414.6" stroke="#1a1a1a" stroke-width="1.0"/>
<text x="139.5" y="417.5" font-size="8.97" fill="#231f20" text-anchor="end" textLength="10.84" lengthAdjust="spacingAndGlyphs" stroke="#231f20" stroke-width="0.1">0.5</text>
<line x1="142.5" y1="386.9" x2="145.3" y2="386.9" stroke="#1a1a1a" stroke-width="1.0"/>
<text x="139.5" y="389.79999999999995" font-size="8.97" fill="#231f20" text-anchor="end" textLength="10.84" lengthAdjust="spacingAndGlyphs" stroke="#231f20" stroke-width="0.1">1.0</text>
<line x1="142.5" y1="359.2" x2="145.3" y2="359.2" stroke="#1a1a1a" stroke-width="1.0"/>
<text x="139.5" y="362.09999999999997" font-size="8.97" fill="#231f20" text-anchor="end" textLength="10.84" lengthAdjust="spacingAndGlyphs" stroke="#231f20" stroke-width="0.1">1.5</text>
<line x1="156.7" y1="442.3" x2="156.7" y2="444.90000000000003" stroke="#1a1a1a" stroke-width="0.9"/>
<circle cx="152.9" cy="386.9" r="1.5" fill="#000"/>
<circle cx="155.43333333333334" cy="386.9" r="1.5" fill="#000"/>
<circle cx="157.96666666666667" cy="386.9" r="1.5" fill="#000"/>
<circle cx="160.5" cy="386.9" r="1.5" fill="#000"/>
<line x1="173.5" y1="442.3" x2="173.5" y2="444.90000000000003" stroke="#1a1a1a" stroke-width="0.9"/>
<line x1="173.5" y1="429.004" x2="173.5" y2="423.1" stroke="#111" stroke-width="0.9"/>
<line x1="171.9" y1="423.1" x2="175.1" y2="423.1" stroke="#111" stroke-width="0.9"/>
<circle cx="173.5" cy="422.0" r="1.5" fill="#000"/>
<circle cx="169.2" cy="427.8" r="1.5" fill="#000"/>
<circle cx="178.7" cy="428.6" r="1.5" fill="#000"/>
<circle cx="170.2" cy="433.2" r="1.5" fill="#000"/>
<text transform="translate(122.6,400.5) rotate(-90)" x="0" y="0" font-size="9" fill="#231f20" stroke="#231f20" stroke-width="0.1" text-anchor="middle" textLength="61.5" lengthAdjust="spacingAndGlyphs">Normalized <tspan font-style="italic">PLCG1</tspan></text>
<path d="M156.8,380.6 V377.0 H173.5 V380.6" fill="none" stroke="#1a1a1a" stroke-width="0.9"/>
<text x="151.3" y="373.2" font-size="8.74" fill="#231f20" textLength="31.91" lengthAdjust="spacingAndGlyphs" stroke="#231f20" stroke-width="0.1"><tspan font-style="italic">p</tspan>=0.0002</text>
<text x="163.6" y="453.4" font-size="8.97" fill="#231f20" text-anchor="middle" textLength="26.5" lengthAdjust="spacingAndGlyphs" stroke="#231f20" stroke-width="0.1">SKNO-1</text>
<rect x="222.30" y="343.00" width="6.20" height="6.30" fill="#c8102e"/>
<text x="231.3" y="348.9" font-size="8.62" fill="#231f20" textLength="22.5" lengthAdjust="spacingAndGlyphs" stroke="#231f20" stroke-width="0.1">DMSO</text>
<rect x="264.50" y="343.00" width="6.20" height="6.30" fill="#17508f"/>
<text x="273.8" y="348.9" font-size="8.62" fill="#231f20" textLength="28.48" lengthAdjust="spacingAndGlyphs" stroke="#231f20" stroke-width="0.1">Lys-CoA</text>
<rect x="320.10" y="343.00" width="6.20" height="6.30" fill="#c8102e"/>
<text x="329.2" y="348.9" font-size="8.62" fill="#231f20" textLength="22.5" lengthAdjust="spacingAndGlyphs" stroke="#231f20" stroke-width="0.1">DMSO</text>
<rect x="362.80" y="343.00" width="6.20" height="6.30" fill="#17508f"/>
<text x="371.5" y="348.9" font-size="8.62" fill="#231f20" textLength="28.48" lengthAdjust="spacingAndGlyphs" stroke="#231f20" stroke-width="0.1">Lys-CoA</text>
<rect x="259.55" y="387.97" width="10.10" height="53.53" fill="#c8102e"/>
<rect x="275.75" y="419.02" width="10.10" height="22.48" fill="#17508f"/>
<line x1="253.5" y1="361.2" x2="253.5" y2="442.1" stroke="#1a1a1a" stroke-width="1.3"/>
<line x1="252.9" y1="441.5" x2="290.9" y2="441.5" stroke="#1a1a1a" stroke-width="1.3"/>
<line x1="250.7" y1="441.5" x2="253.5" y2="441.5" stroke="#1a1a1a" stroke-width="1.0"/>
<text x="247.7" y="444.4" font-size="8.97" fill="#231f20" text-anchor="end" textLength="10.84" lengthAdjust="spacingAndGlyphs" stroke="#231f20" stroke-width="0.1">0.0</text>
<line x1="250.7" y1="414.73333333333335" x2="253.5" y2="414.73333333333335" stroke="#1a1a1a" stroke-width="1.0"/>
<text x="247.7" y="417.6333333333333" font-size="8.97" fill="#231f20" text-anchor="end" textLength="10.84" lengthAdjust="spacingAndGlyphs" stroke="#231f20" stroke-width="0.1">0.5</text>
<line x1="250.7" y1="387.96666666666664" x2="253.5" y2="387.96666666666664" stroke="#1a1a1a" stroke-width="1.0"/>
<text x="247.7" y="390.8666666666666" font-size="8.97" fill="#231f20" text-anchor="end" textLength="10.84" lengthAdjust="spacingAndGlyphs" stroke="#231f20" stroke-width="0.1">1.0</text>
<line x1="250.7" y1="361.2" x2="253.5" y2="361.2" stroke="#1a1a1a" stroke-width="1.0"/>
<text x="247.7" y="364.09999999999997" font-size="8.97" fill="#231f20" text-anchor="end" textLength="10.84" lengthAdjust="spacingAndGlyphs" stroke="#231f20" stroke-width="0.1">1.5</text>
<line x1="264.6" y1="441.5" x2="264.6" y2="444.1" stroke="#1a1a1a" stroke-width="0.9"/>
<circle cx="260.85" cy="387.96666666666664" r="1.5" fill="#000"/>
<circle cx="263.35" cy="387.96666666666664" r="1.5" fill="#000"/>
<circle cx="265.85" cy="387.96666666666664" r="1.5" fill="#000"/>
<circle cx="268.35" cy="387.96666666666664" r="1.5" fill="#000"/>
<line x1="280.8" y1="441.5" x2="280.8" y2="444.1" stroke="#1a1a1a" stroke-width="0.9"/>
<line x1="280.8" y1="419.016" x2="280.8" y2="404.2" stroke="#111" stroke-width="0.9"/>
<line x1="279.2" y1="404.2" x2="282.40000000000003" y2="404.2" stroke="#111" stroke-width="0.9"/>
<circle cx="280.5" cy="405.0" r="1.5" fill="#000"/>
<circle cx="280.5" cy="417.0" r="1.5" fill="#000"/>
<circle cx="280.5" cy="426.5" r="1.5" fill="#000"/>
<circle cx="280.5" cy="433.0" r="1.5" fill="#000"/>
<text transform="translate(231.6,401.0) rotate(-90)" x="0" y="0" font-size="9" fill="#231f20" stroke="#231f20" stroke-width="0.1" text-anchor="middle" textLength="61.5" lengthAdjust="spacingAndGlyphs">Normalized <tspan font-style="italic">PLCG1</tspan></text>
<path d="M264.5,382.0 V378.4 H280.6 V382.0" fill="none" stroke="#1a1a1a" stroke-width="0.9"/>
<text x="259.7" y="375.3" font-size="8.74" fill="#231f20" textLength="31.91" lengthAdjust="spacingAndGlyphs" stroke="#231f20" stroke-width="0.1"><tspan font-style="italic">p</tspan>=0.0133</text>
<text x="272.5" y="453.4" font-size="8.97" fill="#231f20" text-anchor="middle" textLength="31.4" lengthAdjust="spacingAndGlyphs" stroke="#231f20" stroke-width="0.1">Kasumi-1</text>
<rect x="358.35" y="388.43" width="10.10" height="53.47" fill="#c8102e"/>
<rect x="374.45" y="409.02" width="10.10" height="32.88" fill="#17508f"/>
<line x1="352.3" y1="361.7" x2="352.3" y2="442.5" stroke="#1a1a1a" stroke-width="1.3"/>
<line x1="351.7" y1="441.9" x2="390.2" y2="441.9" stroke="#1a1a1a" stroke-width="1.3"/>
<line x1="349.5" y1="441.9" x2="352.3" y2="441.9" stroke="#1a1a1a" stroke-width="1.0"/>
<text x="346.5" y="444.79999999999995" font-size="8.97" fill="#231f20" text-anchor="end" textLength="10.84" lengthAdjust="spacingAndGlyphs" stroke="#231f20" stroke-width="0.1">0.0</text>
<line x1="349.5" y1="415.16666666666663" x2="352.3" y2="415.16666666666663" stroke="#1a1a1a" stroke-width="1.0"/>
<text x="346.5" y="418.0666666666666" font-size="8.97" fill="#231f20" text-anchor="end" textLength="10.84" lengthAdjust="spacingAndGlyphs" stroke="#231f20" stroke-width="0.1">0.5</text>
<line x1="349.5" y1="388.43333333333334" x2="352.3" y2="388.43333333333334" stroke="#1a1a1a" stroke-width="1.0"/>
<text x="346.5" y="391.3333333333333" font-size="8.97" fill="#231f20" text-anchor="end" textLength="10.84" lengthAdjust="spacingAndGlyphs" stroke="#231f20" stroke-width="0.1">1.0</text>
<line x1="349.5" y1="361.7" x2="352.3" y2="361.7" stroke="#1a1a1a" stroke-width="1.0"/>
<text x="346.5" y="364.59999999999997" font-size="8.97" fill="#231f20" text-anchor="end" textLength="10.84" lengthAdjust="spacingAndGlyphs" stroke="#231f20" stroke-width="0.1">1.5</text>
<line x1="363.4" y1="441.9" x2="363.4" y2="444.5" stroke="#1a1a1a" stroke-width="0.9"/>
<circle cx="359.65" cy="388.43333333333334" r="1.5" fill="#000"/>
<circle cx="362.15" cy="388.43333333333334" r="1.5" fill="#000"/>
<circle cx="364.65" cy="388.43333333333334" r="1.5" fill="#000"/>
<circle cx="367.15" cy="388.43333333333334" r="1.5" fill="#000"/>
<line x1="379.5" y1="441.9" x2="379.5" y2="444.5" stroke="#1a1a1a" stroke-width="0.9"/>
<line x1="379.5" y1="409.018" x2="379.5" y2="401.6" stroke="#111" stroke-width="0.9"/>
<line x1="377.9" y1="401.6" x2="381.1" y2="401.6" stroke="#111" stroke-width="0.9"/>
<circle cx="375.6" cy="404.0" r="1.5" fill="#000"/>
<circle cx="383.4" cy="401.0" r="1.5" fill="#000"/>
<circle cx="383.4" cy="410.8" r="1.5" fill="#000"/>
<circle cx="375.6" cy="415.5" r="1.5" fill="#000"/>
<text transform="translate(330.5,401.0) rotate(-90)" x="0" y="0" font-size="9" fill="#231f20" stroke="#231f20" stroke-width="0.1" text-anchor="middle" textLength="61.5" lengthAdjust="spacingAndGlyphs">Normalized <tspan font-style="italic">PLCG1</tspan></text>
<path d="M363.4,382.0 V378.4 H379.6 V382.0" fill="none" stroke="#1a1a1a" stroke-width="0.9"/>
<text x="358.0" y="375.3" font-size="8.74" fill="#231f20" textLength="31.91" lengthAdjust="spacingAndGlyphs" stroke="#231f20" stroke-width="0.1"><tspan font-style="italic">p</tspan>=0.0089</text>
<text x="370.8" y="453.4" font-size="8.97" fill="#231f20" text-anchor="middle" textLength="26.5" lengthAdjust="spacingAndGlyphs" stroke="#231f20" stroke-width="0.1">SKNO-1</text>
<rect x="470.90" y="376.90" width="8.20" height="54.80" fill="#c8102e"/>
<rect x="484.60" y="406.49" width="8.60" height="25.21" fill="#17508f"/>
<rect x="498.45" y="414.71" width="8.30" height="16.99" fill="#3cb54a"/>
<line x1="465.6" y1="349.5" x2="465.6" y2="432.3" stroke="#1a1a1a" stroke-width="1.3"/>
<line x1="465.0" y1="431.7" x2="510.7" y2="431.7" stroke="#1a1a1a" stroke-width="1.3"/>
<line x1="462.8" y1="431.7" x2="465.6" y2="431.7" stroke="#1a1a1a" stroke-width="1.0"/>
<text x="459.8" y="434.59999999999997" font-size="8.97" fill="#231f20" text-anchor="end" textLength="10.84" lengthAdjust="spacingAndGlyphs" stroke="#231f20" stroke-width="0.1">0.0</text>
<line x1="462.8" y1="404.3" x2="465.6" y2="404.3" stroke="#1a1a1a" stroke-width="1.0"/>
<text x="459.8" y="407.2" font-size="8.97" fill="#231f20" text-anchor="end" textLength="10.84" lengthAdjust="spacingAndGlyphs" stroke="#231f20" stroke-width="0.1">0.5</text>
<line x1="462.8" y1="376.9" x2="465.6" y2="376.9" stroke="#1a1a1a" stroke-width="1.0"/>
<text x="459.8" y="379.79999999999995" font-size="8.97" fill="#231f20" text-anchor="end" textLength="10.84" lengthAdjust="spacingAndGlyphs" stroke="#231f20" stroke-width="0.1">1.0</text>
<line x1="462.8" y1="349.5" x2="465.6" y2="349.5" stroke="#1a1a1a" stroke-width="1.0"/>
<text x="459.8" y="352.4" font-size="8.97" fill="#231f20" text-anchor="end" textLength="10.84" lengthAdjust="spacingAndGlyphs" stroke="#231f20" stroke-width="0.1">1.5</text>
<line x1="475.0" y1="431.7" x2="475.0" y2="434.3" stroke="#1a1a1a" stroke-width="0.9"/>
<circle cx="472.6" cy="377.1" r="1.5" fill="#000"/>
<circle cx="475.0" cy="377.1" r="1.5" fill="#000"/>
<circle cx="477.4" cy="377.1" r="1.5" fill="#000"/>
<line x1="488.9" y1="431.7" x2="488.9" y2="434.3" stroke="#1a1a1a" stroke-width="0.9"/>
<line x1="488.9" y1="406.492" x2="488.9" y2="400.2" stroke="#111" stroke-width="0.9"/>
<line x1="487.29999999999995" y1="400.2" x2="490.5" y2="400.2" stroke="#111" stroke-width="0.9"/>
<circle cx="489.0" cy="400.2" r="1.5" fill="#000"/>
<circle cx="486.0" cy="407.8" r="1.5" fill="#000"/>
<circle cx="491.6" cy="407.4" r="1.5" fill="#000"/>
<line x1="502.6" y1="431.7" x2="502.6" y2="434.3" stroke="#1a1a1a" stroke-width="0.9"/>
<line x1="502.6" y1="414.712" x2="502.6" y2="405.5" stroke="#111" stroke-width="0.9"/>
<line x1="501.0" y1="405.5" x2="504.20000000000005" y2="405.5" stroke="#111" stroke-width="0.9"/>
<circle cx="502.5" cy="405.7" r="1.5" fill="#000"/>
<circle cx="502.5" cy="412.5" r="1.5" fill="#000"/>
<circle cx="502.5" cy="425.2" r="1.5" fill="#000"/>
<text transform="translate(443.6,390.9) rotate(-90)" x="0" y="0" font-size="9" fill="#231f20" stroke="#231f20" stroke-width="0.1" text-anchor="middle" textLength="61.5" lengthAdjust="spacingAndGlyphs">Normalized <tspan font-style="italic">PLCG1</tspan></text>
<text x="475.0" y="443.9" font-size="8.62" fill="#231f20" text-anchor="middle" textLength="10.0" lengthAdjust="spacingAndGlyphs" stroke="#231f20" stroke-width="0.1">NT</text>
<text x="488.9" y="443.9" font-size="8.62" fill="#231f20" text-anchor="middle" textLength="8.34" lengthAdjust="spacingAndGlyphs" stroke="#231f20" stroke-width="0.1">#1</text>
<text x="502.6" y="443.9" font-size="8.62" fill="#231f20" text-anchor="middle" textLength="8.34" lengthAdjust="spacingAndGlyphs" stroke="#231f20" stroke-width="0.1">#2</text>
<line x1="483.3" y1="448.2" x2="512.2" y2="448.2" stroke="#1a1a1a" stroke-width="0.9"/>
<text x="498.0" y="458.0" font-size="9.4" fill="#231f20" text-anchor="middle" textLength="18.2" lengthAdjust="spacingAndGlyphs" stroke="#231f20" stroke-width="0.1">gJUN</text>
<path d="M475.3,355.4 V350.6 H502.4 V355.4" fill="none" stroke="#1a1a1a" stroke-width="0.9"/>
<text x="472.7" y="347.8" font-size="8.74" fill="#231f20" textLength="31.91" lengthAdjust="spacingAndGlyphs" stroke="#231f20" stroke-width="0.1"><tspan font-style="italic">p</tspan>=0.0241</text>
<path d="M475.3,372.3 V368.4 H490.5 V372.3" fill="none" stroke="#1a1a1a" stroke-width="0.9"/>
<text x="471.0" y="365.1" font-size="8.74" fill="#231f20" textLength="31.91" lengthAdjust="spacingAndGlyphs" stroke="#231f20" stroke-width="0.1"><tspan font-style="italic">p</tspan>=0.0103</text>
<rect x="103.40" y="7.00" width="2.30" height="114.80" fill="#5cc890" fill-opacity="0.85"/>
<rect x="103.40" y="12.00" width="2.30" height="15.50" fill="#000" fill-opacity="0.3"/>
<rect x="60.10" y="20.00" width="0.50" height="42.00" fill="#d9d9d9"/>
<rect x="63.50" y="20.00" width="1.40" height="42.00" fill="#b5b5b5"/>
<rect x="60.00" y="27.00" width="0.90" height="35.00" fill="#777"/>
<rect x="103.80" y="27.00" width="1.30" height="35.00" fill="#000"/>
<rect x="59.50" y="34.00" width="1.60" height="28.00" fill="#333"/>
<rect x="99.50" y="34.00" width="0.60" height="28.00" fill="#b5b5b5"/>
<rect x="102.50" y="34.00" width="0.70" height="28.00" fill="#b5b5b5"/>
<rect x="59.00" y="41.00" width="2.60" height="21.00" fill="#000"/>
<rect x="63.30" y="41.00" width="1.60" height="21.00" fill="#777"/>
<rect x="95.00" y="41.00" width="1.00" height="21.00" fill="#777"/>
<rect x="102.40" y="41.00" width="1.60" height="21.00" fill="#000"/>
<rect x="127.00" y="41.00" width="1.00" height="21.00" fill="#d9d9d9"/>
<rect x="133.00" y="41.00" width="1.00" height="21.00" fill="#d9d9d9"/>
<rect x="136.50" y="41.00" width="0.70" height="21.00" fill="#777"/>
<rect x="43.40" y="48.00" width="0.50" height="14.00" fill="#d9d9d9"/>
<rect x="45.00" y="48.00" width="0.50" height="14.00" fill="#d9d9d9"/>
<rect x="47.90" y="48.00" width="1.00" height="14.00" fill="#333"/>
<rect x="58.40" y="48.00" width="4.60" height="14.00" fill="#000"/>
<rect x="65.00" y="48.00" width="1.00" height="14.00" fill="#b5b5b5"/>
<rect x="67.00" y="48.00" width="1.00" height="14.00" fill="#d9d9d9"/>
<rect x="80.00" y="48.00" width="0.50" height="14.00" fill="#d9d9d9"/>
<rect x="88.00" y="48.00" width="0.70" height="14.00" fill="#777"/>
<rect x="96.00" y="48.00" width="1.00" height="14.00" fill="#000"/>
<rect x="100.00" y="48.00" width="2.00" height="14.00" fill="#777"/>
<rect x="104.00" y="48.00" width="3.00" height="14.00" fill="#000"/>
<rect x="105.00" y="48.00" width="1.50" height="14.00" fill="#333"/>
<rect x="113.00" y="48.00" width="2.00" height="14.00" fill="#333"/>
<rect x="118.00" y="48.00" width="2.00" height="14.00" fill="#777"/>
<rect x="123.00" y="48.00" width="1.00" height="14.00" fill="#d9d9d9"/>
<rect x="132.50" y="48.00" width="2.50" height="14.00" fill="#777"/>
<rect x="136.00" y="48.00" width="1.50" height="14.00" fill="#333"/>
<rect x="138.00" y="48.00" width="2.00" height="14.00" fill="#777"/>
<rect x="142.50" y="48.00" width="0.50" height="14.00" fill="#d9d9d9"/>
<rect x="152.00" y="48.00" width="1.00" height="14.00" fill="#d9d9d9"/>
<rect x="155.00" y="48.00" width="0.80" height="14.00" fill="#777"/>
<rect x="164.50" y="48.00" width="0.50" height="14.00" fill="#d9d9d9"/>
<rect x="172.00" y="48.00" width="1.50" height="14.00" fill="#777"/>
<rect x="176.00" y="48.00" width="1.50" height="14.00" fill="#777"/>
<rect x="43.00" y="55.00" width="2.80" height="7.00" fill="#000"/>
<rect x="46.30" y="55.00" width="1.60" height="7.00" fill="#777"/>
<rect x="49.00" y="55.00" width="1.60" height="7.00" fill="#333"/>
<rect x="52.00" y="55.00" width="2.00" height="7.00" fill="#b5b5b5"/>
<rect x="54.00" y="55.00" width="0.80" height="7.00" fill="#777"/>
<rect x="58.00" y="55.00" width="6.70" height="7.00" fill="#000"/>
<rect x="67.00" y="55.00" width="2.00" height="7.00" fill="#000"/>
<rect x="69.50" y="55.00" width="0.60" height="7.00" fill="#b5b5b5"/>
<rect x="73.00" y="55.00" width="1.00" height="7.00" fill="#d9d9d9"/>
<rect x="77.00" y="55.00" width="2.00" height="7.00" fill="#333"/>
<rect x="79.00" y="55.00" width="1.00" height="7.00" fill="#b5b5b5"/>
<rect x="80.50" y="55.00" width="1.50" height="7.00" fill="#777"/>
<rect x="82.50" y="55.00" width="4.00" height="7.00" fill="#000"/>
<rect x="88.00" y="55.00" width="0.70" height="7.00" fill="#777"/>
<rect x="91.00" y="55.00" width="2.00" height="7.00" fill="#777"/>
<rect x="95.00" y="55.00" width="2.00" height="7.00" fill="#000"/>
<rect x="98.00" y="55.00" width="9.20" height="7.00" fill="#000"/>
<rect x="108.00" y="55.00" width="2.00" height="7.00" fill="#777"/>
<rect x="113.00" y="55.00" width="2.60" height="7.00" fill="#000"/>
<rect x="114.20" y="55.00" width="1.40" height="7.00" fill="#333"/>
<rect x="118.00" y="55.00" width="2.00" height="7.00" fill="#000"/>
<rect x="123.00" y="55.00" width="1.20" height="7.00" fill="#000"/>
<rect x="127.00" y="55.00" width="1.00" height="7.00" fill="#000"/>
<rect x="129.00" y="55.00" width="2.00" height="7.00" fill="#000"/>
<rect x="132.50" y="55.00" width="2.50" height="7.00" fill="#000"/>
<rect x="136.00" y="55.00" width="1.50" height="7.00" fill="#000"/>
<rect x="138.00" y="55.00" width="2.00" height="7.00" fill="#777"/>
<rect x="140.00" y="55.00" width="5.00" height="7.00" fill="#333"/>
<rect x="147.00" y="55.00" width="1.00" height="7.00" fill="#333"/>
<rect x="150.00" y="55.00" width="2.00" height="7.00" fill="#777"/>
<rect x="152.00" y="55.00" width="1.50" height="7.00" fill="#000"/>
<rect x="158.00" y="55.00" width="2.00" height="7.00" fill="#333"/>
<rect x="164.00" y="55.00" width="1.50" height="7.00" fill="#777"/>
<rect x="167.00" y="55.00" width="0.80" height="7.00" fill="#777"/>
<rect x="172.00" y="55.00" width="1.50" height="7.00" fill="#333"/>
<rect x="176.00" y="55.00" width="2.00" height="7.00" fill="#000"/>
<line x1="41.5" y1="61.8" x2="178" y2="61.8" stroke="#999" stroke-width="0.4"/>
<text x="140.4" y="30.9" font-size="7.1" fill="#231f20" textLength="36.5" lengthAdjust="spacingAndGlyphs" stroke="#231f20" stroke-width="0.1">AML1-ETO</text>
<text x="160.0" y="87.7" font-size="7.5" fill="#231f20" stroke="#231f20" stroke-width="0.1">p300</text>
<rect x="41.00" y="115.40" width="0.86" height="0.80" fill="#444"/>
<rect x="43.03" y="115.60" width="1.41" height="0.60" fill="#444"/>
<rect x="46.11" y="114.90" width="1.86" height="1.30" fill="#444"/>
<rect x="48.92" y="114.90" width="0.85" height="1.30" fill="#444"/>
<rect x="51.31" y="114.90" width="1.32" height="1.30" fill="#444"/>
<rect x="54.37" y="115.40" width="0.73" height="0.80" fill="#444"/>
<rect x="57.32" y="115.60" width="1.28" height="0.60" fill="#444"/>
<rect x="60.42" y="115.60" width="0.60" height="0.60" fill="#444"/>
<rect x="62.05" y="115.20" width="0.55" height="1.00" fill="#444"/>
<rect x="63.98" y="114.90" width="1.58" height="1.30" fill="#444"/>
<rect x="67.46" y="114.90" width="1.88" height="1.30" fill="#444"/>
<rect x="71.27" y="115.40" width="1.37" height="0.80" fill="#444"/>
<rect x="74.88" y="115.40" width="0.65" height="0.80" fill="#444"/>
<rect x="76.97" y="114.90" width="0.89" height="1.30" fill="#444"/>
<rect x="79.89" y="114.90" width="1.78" height="1.30" fill="#444"/>
<rect x="83.14" y="115.20" width="1.08" height="1.00" fill="#444"/>
<rect x="85.74" y="115.40" width="1.11" height="0.80" fill="#444"/>
<rect x="89.15" y="115.60" width="1.52" height="0.60" fill="#444"/>
<rect x="92.87" y="115.40" width="1.99" height="0.80" fill="#444"/>
<rect x="96.73" y="115.60" width="0.99" height="0.60" fill="#444"/>
<rect x="99.62" y="115.20" width="0.82" height="1.00" fill="#444"/>
<rect x="101.43" y="114.90" width="0.60" height="1.30" fill="#444"/>
<rect x="102.61" y="114.90" width="1.70" height="1.30" fill="#444"/>
<rect x="106.60" y="114.90" width="0.53" height="1.30" fill="#444"/>
<rect x="109.14" y="115.60" width="1.81" height="0.60" fill="#444"/>
<rect x="112.62" y="114.90" width="1.64" height="1.30" fill="#444"/>
<rect x="116.17" y="115.20" width="1.00" height="1.00" fill="#444"/>
<rect x="118.63" y="115.20" width="2.00" height="1.00" fill="#444"/>
<rect x="121.04" y="115.60" width="0.66" height="0.60" fill="#444"/>
<rect x="124.10" y="115.20" width="1.96" height="1.00" fill="#444"/>
<rect x="127.74" y="115.60" width="0.73" height="0.60" fill="#444"/>
<rect x="130.93" y="115.20" width="1.01" height="1.00" fill="#444"/>
<rect x="134.35" y="114.90" width="1.84" height="1.30" fill="#444"/>
<rect x="137.39" y="114.90" width="1.80" height="1.30" fill="#444"/>
<rect x="140.94" y="115.60" width="1.39" height="0.60" fill="#444"/>
<rect x="144.04" y="115.20" width="1.91" height="1.00" fill="#444"/>
<rect x="147.26" y="115.40" width="1.58" height="0.80" fill="#444"/>
<rect x="151.20" y="115.20" width="1.16" height="1.00" fill="#444"/>
<rect x="153.85" y="115.60" width="1.32" height="0.60" fill="#444"/>
<rect x="157.23" y="115.20" width="1.98" height="1.00" fill="#444"/>
<rect x="159.66" y="115.40" width="1.42" height="0.80" fill="#444"/>
<rect x="161.61" y="114.90" width="1.44" height="1.30" fill="#444"/>
<rect x="164.19" y="115.20" width="1.88" height="1.00" fill="#444"/>
<rect x="168.01" y="115.60" width="0.53" height="0.60" fill="#444"/>
<rect x="170.95" y="115.20" width="0.53" height="1.00" fill="#444"/>
<rect x="172.41" y="115.20" width="1.18" height="1.00" fill="#444"/>
<rect x="174.37" y="115.20" width="0.78" height="1.00" fill="#444"/>
<rect x="177.32" y="114.90" width="0.90" height="1.30" fill="#444"/>
<line x1="41" y1="116.2" x2="178" y2="116.2" stroke="#888" stroke-width="0.3"/>
<path d="M56.9,116.5 L57.6,110.6 L59.6,109.6 L60.0,102.2 L60.6,102.2 L61.1,109.6 L61.7,112.2 L62.9,116.5 Z" fill="#000"/>
<path d="M103.3,116.4 L104.0,64.8 L104.8,64.8 L105.6,116.4 Z" fill="#000"/>
<line x1="40.8" y1="121.2" x2="178.8" y2="121.2" stroke="#c2c2c2" stroke-width="0.7"/>
<defs><linearGradient id="tg" x1="0" y1="0" x2="0" y2="1"><stop offset="0" stop-color="#969696"/><stop offset="1" stop-color="#ffffff"/></linearGradient></defs>
<path d="M102.0,126.0 L106.2,126.0 L157.5,147.6 L51.3,147.6 Z" fill="url(#tg)"/>
<text x="22.3" y="129.2" font-size="8.6" fill="#231f20" textLength="33.4" lengthAdjust="spacingAndGlyphs" stroke="#231f20" stroke-width="0.1">chrom 20</text>
<text x="27.7" y="137.3" font-size="8.4" fill="#231f20" textLength="22.3" lengthAdjust="spacingAndGlyphs" stroke="#231f20" stroke-width="0.1">(hg38)</text>
<text x="65.8" y="129.2" font-size="8.3" fill="#231f20" textLength="34.6" lengthAdjust="spacingAndGlyphs" stroke="#231f20" stroke-width="0.1">41000000</text>
<text x="143.8" y="129.2" font-size="8.3" fill="#231f20" textLength="34.8" lengthAdjust="spacingAndGlyphs" stroke="#231f20" stroke-width="0.1">41020000</text>
<line x1="40.0" y1="167.9" x2="167.7" y2="167.9" stroke="#333" stroke-width="0.8"/>
<rect x="47.0" y="165.9" width="113.0" height="4.0" rx="1.2" fill="#1a4d80" stroke="#111" stroke-width="0.7"/>
<line x1="53.9" y1="161.8" x2="62.6" y2="161.8" stroke="#000" stroke-width="1.0"/>
<path d="M51.4,161.8 L54.6,159.9 L54.6,163.70000000000002 Z" fill="#000"/>
<line x1="90.3" y1="161.8" x2="99.9" y2="161.8" stroke="#000" stroke-width="1.0"/>
<path d="M87.8,161.8 L91.0,159.9 L91.0,163.70000000000002 Z" fill="#000"/>
<line x1="141.3" y1="161.9" x2="150.8" y2="161.9" stroke="#000" stroke-width="1.0"/>
<path d="M138.8,161.9 L142.0,160.0 L142.0,163.8 Z" fill="#000"/>
<line x1="68.1" y1="173.0" x2="77.4" y2="173.0" stroke="#000" stroke-width="1.0"/>
<path d="M65.6,173.0 L68.8,171.1 L68.8,174.9 Z" fill="#000"/>
<line x1="117.1" y1="173.0" x2="126.5" y2="173.0" stroke="#000" stroke-width="1.0"/>
<path d="M114.6,173.0 L117.8,171.1 L117.8,174.9 Z" fill="#000"/>
<text x="50.5" y="157.4" font-size="7.0" fill="#231f20" stroke="#231f20" stroke-width="0.1">8–27</text>
<text x="82.4" y="157.3" font-size="7.0" fill="#231f20" stroke="#231f20" stroke-width="0.1">105–124</text>
<text x="133.1" y="157.3" font-size="7.0" fill="#231f20" stroke="#231f20" stroke-width="0.1">352–371</text>
<text x="63.1" y="182.4" font-size="7.0" fill="#231f20" stroke="#231f20" stroke-width="0.1">58–77</text>
<text x="106.9" y="182.7" font-size="7.0" fill="#231f20" stroke="#231f20" stroke-width="0.1">295–214</text>
<text x="223.8" y="475.0" font-size="7.2" fill="#231f20" stroke="#231f20" stroke-width="0.1">200 kb</text>
<line x1="248.8" y1="473.4" x2="454.7" y2="473.4" stroke="#222" stroke-width="1.0"/>
<line x1="248.8" y1="469.6" x2="248.8" y2="477.2" stroke="#222" stroke-width="1.0"/>
<line x1="454.7" y1="469.4" x2="454.7" y2="477.3" stroke="#222" stroke-width="1.0"/>
<text x="456.6" y="475.0" font-size="7.2" fill="#231f20" stroke="#231f20" stroke-width="0.1">hg38</text>
<line x1="107.7" y1="479.6" x2="107.7" y2="486.2" stroke="#333" stroke-width="0.8"/>
<line x1="159.2" y1="479.6" x2="159.2" y2="486.2" stroke="#333" stroke-width="0.8"/>
<line x1="211.0" y1="479.6" x2="211.0" y2="486.2" stroke="#333" stroke-width="0.8"/>
<line x1="263.1" y1="479.6" x2="263.1" y2="486.2" stroke="#333" stroke-width="0.8"/>
<line x1="314.0" y1="479.6" x2="314.0" y2="486.2" stroke="#333" stroke-width="0.8"/>
<line x1="365.8" y1="479.6" x2="365.8" y2="486.2" stroke="#333" stroke-width="0.8"/>
<line x1="417.3" y1="479.6" x2="417.3" y2="486.2" stroke="#333" stroke-width="0.8"/>
<line x1="469.3" y1="479.6" x2="469.3" y2="486.2" stroke="#333" stroke-width="0.8"/>
<text x="155.7" y="485.8" font-size="7.2" fill="#231f20" text-anchor="end" textLength="36.5" lengthAdjust="spacingAndGlyphs" stroke="#231f20" stroke-width="0.1">41,000,000</text>
<text x="207.1" y="485.8" font-size="7.2" fill="#231f20" text-anchor="end" textLength="36.5" lengthAdjust="spacingAndGlyphs" stroke="#231f20" stroke-width="0.1">41,050,000</text>
<text x="257.7" y="485.8" font-size="7.2" fill="#231f20" text-anchor="end" textLength="36.5" lengthAdjust="spacingAndGlyphs" stroke="#231f20" stroke-width="0.1">41,100,000</text>
<text x="310.2" y="485.8" font-size="7.2" fill="#231f20" text-anchor="end" textLength="36.5" lengthAdjust="spacingAndGlyphs" stroke="#231f20" stroke-width="0.1">41,150,000</text>
<text x="361.9" y="485.8" font-size="7.2" fill="#231f20" text-anchor="end" textLength="36.5" lengthAdjust="spacingAndGlyphs" stroke="#231f20" stroke-width="0.1">41,200,000</text>
<text x="412.3" y="485.8" font-size="7.2" fill="#231f20" text-anchor="end" textLength="36.5" lengthAdjust="spacingAndGlyphs" stroke="#231f20" stroke-width="0.1">41,250,000</text>
<text x="465.1" y="485.8" font-size="7.2" fill="#231f20" text-anchor="end" textLength="36.5" lengthAdjust="spacingAndGlyphs" stroke="#231f20" stroke-width="0.1">41,300,000</text>
<text x="167.7" y="494.2" font-size="7.0" fill="#231f20" textLength="17.3" lengthAdjust="spacingAndGlyphs" stroke="#231f20" stroke-width="0.1">TOP1</text>
<text x="325.4" y="493.8" font-size="7.0" fill="#231f20" textLength="18.6" lengthAdjust="spacingAndGlyphs" stroke="#231f20" stroke-width="0.1">ZHX3</text>
<line x1="189.2" y1="491.4" x2="286.2" y2="491.4" stroke="#333" stroke-width="0.7"/>
<line x1="189.2" y1="488.6" x2="189.2" y2="494.4" stroke="#111" stroke-width="1.0"/>
<path d="M192.1,490.5 L193.3,491.4 L192.1,492.3" fill="none" stroke="#6e6ed8" stroke-width="0.55"/>
<path d="M195.1,490.5 L196.3,491.4 L195.1,492.3" fill="none" stroke="#6e6ed8" stroke-width="0.55"/>
<path d="M198.1,490.5 L199.3,491.4 L198.1,492.3" fill="none" stroke="#6e6ed8" stroke-width="0.55"/>
<path d="M201.1,490.5 L202.3,491.4 L201.1,492.3" fill="none" stroke="#6e6ed8" stroke-width="0.55"/>
<path d="M204.1,490.5 L205.3,491.4 L204.1,492.3" fill="none" stroke="#6e6ed8" stroke-width="0.55"/>
<path d="M207.1,490.5 L208.3,491.4 L207.1,492.3" fill="none" stroke="#6e6ed8" stroke-width="0.55"/>
<path d="M210.1,490.5 L211.3,491.4 L210.1,492.3" fill="none" stroke="#6e6ed8" stroke-width="0.55"/>
<path d="M213.1,490.5 L214.3,491.4 L213.1,492.3" fill="none" stroke="#6e6ed8" stroke-width="0.55"/>
<path d="M216.1,490.5 L217.3,491.4 L216.1,492.3" fill="none" stroke="#6e6ed8" stroke-width="0.55"/>
<path d="M219.1,490.5 L220.3,491.4 L219.1,492.3" fill="none" stroke="#6e6ed8" stroke-width="0.55"/>
<path d="M225.1,490.5 L226.3,491.4 L225.1,492.3" fill="none" stroke="#6e6ed8" stroke-width="0.55"/>
<path d="M228.1,490.5 L229.3,491.4 L228.1,492.3" fill="none" stroke="#6e6ed8" stroke-width="0.55"/>
<path d="M231.1,490.5 L232.3,491.4 L231.1,492.3" fill="none" stroke="#6e6ed8" stroke-width="0.55"/>
<path d="M234.1,490.5 L235.3,491.4 L234.1,492.3" fill="none" stroke="#6e6ed8" stroke-width="0.55"/>
<path d="M243.1,490.5 L244.3,491.4 L243.1,492.3" fill="none" stroke="#6e6ed8" stroke-width="0.55"/>
<path d="M249.1,490.5 L250.3,491.4 L249.1,492.3" fill="none" stroke="#6e6ed8" stroke-width="0.55"/>
<path d="M252.1,490.5 L253.3,491.4 L252.1,492.3" fill="none" stroke="#6e6ed8" stroke-width="0.55"/>
<path d="M261.1,490.5 L262.3,491.4 L261.1,492.3" fill="none" stroke="#6e6ed8" stroke-width="0.55"/>
<path d="M264.1,490.5 L265.3,491.4 L264.1,492.3" fill="none" stroke="#6e6ed8" stroke-width="0.55"/>
<path d="M267.1,490.5 L268.3,491.4 L267.1,492.3" fill="none" stroke="#6e6ed8" stroke-width="0.55"/>
<path d="M270.1,490.5 L271.3,491.4 L270.1,492.3" fill="none" stroke="#6e6ed8" stroke-width="0.55"/>
<path d="M273.1,490.5 L274.3,491.4 L273.1,492.3" fill="none" stroke="#6e6ed8" stroke-width="0.55"/>
<path d="M282.1,490.5 L283.3,491.4 L282.1,492.3" fill="none" stroke="#6e6ed8" stroke-width="0.55"/>
<line x1="222.5" y1="488.2" x2="222.5" y2="494.8" stroke="#111" stroke-width="1.1"/>
<line x1="238.6" y1="488.2" x2="238.6" y2="494.8" stroke="#111" stroke-width="1.1"/>
<line x1="240.6" y1="488.2" x2="240.6" y2="494.8" stroke="#111" stroke-width="1.1"/>
<line x1="242.6" y1="488.2" x2="242.6" y2="494.8" stroke="#111" stroke-width="1.1"/>
<line x1="255.1" y1="488.2" x2="255.1" y2="494.8" stroke="#111" stroke-width="1.1"/>
<line x1="258.8" y1="488.2" x2="258.8" y2="494.8" stroke="#111" stroke-width="1.1"/>
<line x1="260.4" y1="488.2" x2="260.4" y2="494.8" stroke="#111" stroke-width="1.1"/>
<line x1="263.4" y1="488.2" x2="263.4" y2="494.8" stroke="#111" stroke-width="1.1"/>
<line x1="276.7" y1="488.2" x2="276.7" y2="494.8" stroke="#111" stroke-width="1.1"/>
<line x1="278.3" y1="488.2" x2="278.3" y2="494.8" stroke="#111" stroke-width="1.1"/>
<line x1="279.9" y1="488.2" x2="279.9" y2="494.8" stroke="#111" stroke-width="1.1"/>
<line x1="281.5" y1="488.2" x2="281.5" y2="494.8" stroke="#111" stroke-width="1.1"/>
<line x1="247.1" y1="488.4" x2="247.1" y2="494.6" stroke="#222" stroke-width="1.0"/>
<rect x="285.20" y="488.50" width="1.60" height="6.00" fill="#111"/>
<rect x="277.50" y="496.30" width="21.20" height="6.30" fill="#111"/>
<text x="288.1" y="501.9" font-size="7.0" fill="#fff" text-anchor="middle" textLength="19.0" lengthAdjust="spacingAndGlyphs" stroke="#fff" stroke-width="0.1">PLCG1</text>
<line x1="301.2" y1="499.6" x2="340.0" y2="499.6" stroke="#333" stroke-width="0.7"/>
<line x1="301.2" y1="496.8" x2="301.2" y2="502.4" stroke="#111" stroke-width="1.0"/>
<path d="M305.9,498.7 L304.7,499.6 L305.9,500.5" fill="none" stroke="#6e6ed8" stroke-width="0.55"/>
<path d="M308.9,498.7 L307.7,499.6 L308.9,500.5" fill="none" stroke="#6e6ed8" stroke-width="0.55"/>
<path d="M311.9,498.7 L310.7,499.6 L311.9,500.5" fill="none" stroke="#6e6ed8" stroke-width="0.55"/>
<path d="M314.9,498.7 L313.7,499.6 L314.9,500.5" fill="none" stroke="#6e6ed8" stroke-width="0.55"/>
<path d="M317.9,498.7 L316.7,499.6 L317.9,500.5" fill="none" stroke="#6e6ed8" stroke-width="0.55"/>
<path d="M320.9,498.7 L319.7,499.6 L320.9,500.5" fill="none" stroke="#6e6ed8" stroke-width="0.55"/>
<line x1="323.8" y1="496.6" x2="323.8" y2="502.4" stroke="#111" stroke-width="0.9"/>
<line x1="325.2" y1="496.6" x2="325.2" y2="502.4" stroke="#111" stroke-width="0.9"/>
<rect x="327.30" y="496.30" width="7.00" height="6.30" fill="#111"/>
<rect x="335.20" y="496.30" width="1.40" height="6.30" fill="#111"/>
<rect x="337.30" y="496.60" width="3.20" height="5.70" fill="#111" rx="1.5"/>
<rect x="347.90" y="488.60" width="2.90" height="5.20" fill="#111"/>
<line x1="350.8" y1="491.3" x2="479.7" y2="491.3" stroke="#333" stroke-width="0.7"/>
<rect x="368.00" y="487.20" width="3.50" height="8.20" fill="#111" rx="1"/>
<line x1="437.4" y1="489.4" x2="437.4" y2="493.2" stroke="#222" stroke-width="0.6"/>
<path d="M353.1,490.4 L354.3,491.3 L353.1,492.2" fill="none" stroke="#6e6ed8" stroke-width="0.55"/>
<path d="M356.1,490.4 L357.3,491.3 L356.1,492.2" fill="none" stroke="#6e6ed8" stroke-width="0.55"/>
<path d="M359.1,490.4 L360.3,491.3 L359.1,492.2" fill="none" stroke="#6e6ed8" stroke-width="0.55"/>
<path d="M362.1,490.4 L363.3,491.3 L362.1,492.2" fill="none" stroke="#6e6ed8" stroke-width="0.55"/>
<path d="M365.1,490.4 L366.3,491.3 L365.1,492.2" fill="none" stroke="#6e6ed8" stroke-width="0.55"/>
<path d="M374.1,490.4 L375.3,491.3 L374.1,492.2" fill="none" stroke="#6e6ed8" stroke-width="0.55"/>
<path d="M377.1,490.4 L378.3,491.3 L377.1,492.2" fill="none" stroke="#6e6ed8" stroke-width="0.55"/>
<path d="M380.1,490.4 L381.3,491.3 L380.1,492.2" fill="none" stroke="#6e6ed8" stroke-width="0.55"/>
<path d="M383.1,490.4 L384.3,491.3 L383.1,492.2" fill="none" stroke="#6e6ed8" stroke-width="0.55"/>
<path d="M386.1,490.4 L387.3,491.3 L386.1,492.2" fill="none" stroke="#6e6ed8" stroke-width="0.55"/>
<path d="M389.1,490.4 L390.3,491.3 L389.1,492.2" fill="none" stroke="#6e6ed8" stroke-width="0.55"/>
<path d="M392.1,490.4 L393.3,491.3 L392.1,492.2" fill="none" stroke="#6e6ed8" stroke-width="0.55"/>
<path d="M395.1,490.4 L396.3,491.3 L395.1,492.2" fill="none" stroke="#6e6ed8" stroke-width="0.55"/>
<path d="M398.1,490.4 L399.3,491.3 L398.1,492.2" fill="none" stroke="#6e6ed8" stroke-width="0.55"/>
<path d="M401.1,490.4 L402.3,491.3 L401.1,492.2" fill="none" stroke="#6e6ed8" stroke-width="0.55"/>
<path d="M404.1,490.4 L405.3,491.3 L404.1,492.2" fill="none" stroke="#6e6ed8" stroke-width="0.55"/>
<path d="M407.1,490.4 L408.3,491.3 L407.1,492.2" fill="none" stroke="#6e6ed8" stroke-width="0.55"/>
<path d="M410.1,490.4 L411.3,491.3 L410.1,492.2" fill="none" stroke="#6e6ed8" stroke-width="0.55"/>
<path d="M413.1,490.4 L414.3,491.3 L413.1,492.2" fill="none" stroke="#6e6ed8" stroke-width="0.55"/>
<path d="M416.1,490.4 L417.3,491.3 L416.1,492.2" fill="none" stroke="#6e6ed8" stroke-width="0.55"/>
<path d="M419.1,490.4 L420.3,491.3 L419.1,492.2" fill="none" stroke="#6e6ed8" stroke-width="0.55"/>
<path d="M422.1,490.4 L423.3,491.3 L422.1,492.2" fill="none" stroke="#6e6ed8" stroke-width="0.55"/>
<path d="M425.1,490.4 L426.3,491.3 L425.1,492.2" fill="none" stroke="#6e6ed8" stroke-width="0.55"/>
<path d="M428.1,490.4 L429.3,491.3 L428.1,492.2" fill="none" stroke="#6e6ed8" stroke-width="0.55"/>
<path d="M431.1,490.4 L432.3,491.3 L431.1,492.2" fill="none" stroke="#6e6ed8" stroke-width="0.55"/>
<path d="M434.1,490.4 L435.3,491.3 L434.1,492.2" fill="none" stroke="#6e6ed8" stroke-width="0.55"/>
<path d="M440.1,490.4 L441.3,491.3 L440.1,492.2" fill="none" stroke="#6e6ed8" stroke-width="0.55"/>
<path d="M443.1,490.4 L444.3,491.3 L443.1,492.2" fill="none" stroke="#6e6ed8" stroke-width="0.55"/>
<path d="M446.1,490.4 L447.3,491.3 L446.1,492.2" fill="none" stroke="#6e6ed8" stroke-width="0.55"/>
<path d="M449.1,490.4 L450.3,491.3 L449.1,492.2" fill="none" stroke="#6e6ed8" stroke-width="0.55"/>
<path d="M452.1,490.4 L453.3,491.3 L452.1,492.2" fill="none" stroke="#6e6ed8" stroke-width="0.55"/>
<path d="M455.1,490.4 L456.3,491.3 L455.1,492.2" fill="none" stroke="#6e6ed8" stroke-width="0.55"/>
<path d="M458.1,490.4 L459.3,491.3 L458.1,492.2" fill="none" stroke="#6e6ed8" stroke-width="0.55"/>
<path d="M461.1,490.4 L462.3,491.3 L461.1,492.2" fill="none" stroke="#6e6ed8" stroke-width="0.55"/>
<path d="M464.1,490.4 L465.3,491.3 L464.1,492.2" fill="none" stroke="#6e6ed8" stroke-width="0.55"/>
<path d="M467.1,490.4 L468.3,491.3 L467.1,492.2" fill="none" stroke="#6e6ed8" stroke-width="0.55"/>
<path d="M470.1,490.4 L471.3,491.3 L470.1,492.2" fill="none" stroke="#6e6ed8" stroke-width="0.55"/>
<path d="M473.1,490.4 L474.3,491.3 L473.1,492.2" fill="none" stroke="#6e6ed8" stroke-width="0.55"/>
<path d="M476.1,490.4 L477.3,491.3 L476.1,492.2" fill="none" stroke="#6e6ed8" stroke-width="0.55"/>
<line x1="27.9" y1="530.5" x2="27.9" y2="618.8" stroke="#555" stroke-width="1.2"/>
<text transform="translate(22.4,574.7) rotate(-90)" font-size="9.6" fill="#333" stroke="#333" stroke-width="0.1" text-anchor="middle" textLength="30.3" lengthAdjust="spacingAndGlyphs">ChIP-Seq</text>
<text x="33.2" y="536.6" font-size="8.8" fill="#8a8a8a" textLength="23.4" lengthAdjust="spacingAndGlyphs" stroke="#8a8a8a" stroke-width="0.1">AML1-</text>
<text x="37.2" y="545.9" font-size="8.8" fill="#8a8a8a" textLength="15.4" lengthAdjust="spacingAndGlyphs" stroke="#8a8a8a" stroke-width="0.1">ETO</text>
<text x="36.9" y="579.8" font-size="9.0" fill="#9b1c1f" font-weight="bold" textLength="16.0" lengthAdjust="spacingAndGlyphs" stroke="#9b1c1f" stroke-width="0.1">JUN</text>
<text x="31.7" y="618.1" font-size="8.7" fill="#215f9a" font-weight="bold" textLength="26.0" lengthAdjust="spacingAndGlyphs" stroke="#215f9a" stroke-width="0.1">CEBPA</text>
<text x="66.3" y="530.8" font-size="8.3" fill="#8a8a8a" textLength="19.9" lengthAdjust="spacingAndGlyphs" stroke="#8a8a8a" stroke-width="0.1">siMM</text>
<text x="66.3" y="549.6" font-size="8.3" fill="#8a8a8a" textLength="16.0" lengthAdjust="spacingAndGlyphs" stroke="#8a8a8a" stroke-width="0.1">siAE</text>
<text x="66.3" y="568.8" font-size="8.3" fill="#9b1c1f" font-weight="bold" textLength="19.9" lengthAdjust="spacingAndGlyphs" stroke="#9b1c1f" stroke-width="0.1">siMM</text>
<text x="66.3" y="587.9" font-size="8.3" fill="#9b1c1f" font-weight="bold" textLength="16.0" lengthAdjust="spacingAndGlyphs" stroke="#9b1c1f" stroke-width="0.1">siAE</text>
<text x="66.3" y="608.6" font-size="8.3" fill="#215f9a" font-weight="bold" textLength="19.9" lengthAdjust="spacingAndGlyphs" stroke="#215f9a" stroke-width="0.1">siMM</text>
<text x="66.3" y="626.7" font-size="8.3" fill="#215f9a" font-weight="bold" textLength="16.0" lengthAdjust="spacingAndGlyphs" stroke="#215f9a" stroke-width="0.1">siAE</text>
<line x1="94.5" y1="528.5" x2="471.4" y2="528.5" stroke="#6a6a6a" stroke-width="1.0" stroke-opacity="0.75"/>
<rect x="94.50" y="527.25" width="0.94" height="1.35" fill="#6a6a6a"/>
<rect x="96.50" y="527.54" width="1.10" height="1.06" fill="#6a6a6a"/>
<rect x="99.10" y="527.84" width="0.51" height="0.76" fill="#6a6a6a"/>
<rect x="100.95" y="526.45" width="0.45" height="2.15" fill="#6a6a6a"/>
<rect x="102.63" y="527.53" width="0.59" height="1.07" fill="#6a6a6a"/>
<rect x="103.80" y="527.58" width="0.69" height="1.02" fill="#6a6a6a"/>
<rect x="106.05" y="527.55" width="1.02" height="1.05" fill="#6a6a6a"/>
<rect x="108.06" y="526.41" width="0.73" height="2.19" fill="#6a6a6a"/>
<rect x="110.16" y="527.70" width="0.78" height="0.90" fill="#6a6a6a"/>
<rect x="114.84" y="527.26" width="0.40" height="1.34" fill="#6a6a6a"/>
<rect x="117.01" y="527.46" width="0.88" height="1.14" fill="#6a6a6a"/>
<rect x="118.59" y="527.23" width="0.50" height="1.37" fill="#6a6a6a"/>
<rect x="119.57" y="527.86" width="0.70" height="0.74" fill="#6a6a6a"/>
<rect x="120.83" y="527.77" width="1.07" height="0.83" fill="#6a6a6a"/>
<rect x="122.40" y="527.61" width="1.17" height="0.99" fill="#6a6a6a"/>
<rect x="126.46" y="526.90" width="0.87" height="1.70" fill="#6a6a6a"/>
<rect x="129.12" y="527.36" width="0.66" height="1.24" fill="#6a6a6a"/>
<rect x="130.52" y="527.49" width="0.49" height="1.11" fill="#6a6a6a"/>
<rect x="132.21" y="527.23" width="0.85" height="1.37" fill="#6a6a6a"/>
<rect x="138.48" y="526.96" width="1.54" height="1.64" fill="#6a6a6a"/>
<rect x="140.47" y="527.47" width="0.45" height="1.13" fill="#6a6a6a"/>
<rect x="141.60" y="527.69" width="1.39" height="0.91" fill="#6a6a6a"/>
<rect x="146.08" y="527.51" width="0.74" height="1.09" fill="#6a6a6a"/>
<rect x="147.52" y="527.78" width="0.93" height="0.82" fill="#6a6a6a"/>
<rect x="151.45" y="527.80" width="1.23" height="0.80" fill="#6a6a6a"/>
<rect x="153.01" y="527.23" width="1.49" height="1.37" fill="#6a6a6a"/>
<rect x="157.15" y="527.27" width="1.06" height="1.33" fill="#6a6a6a"/>
<rect x="159.56" y="527.31" width="1.35" height="1.29" fill="#6a6a6a"/>
<rect x="165.17" y="527.49" width="1.15" height="1.11" fill="#6a6a6a"/>
<rect x="166.74" y="526.57" width="1.17" height="2.03" fill="#6a6a6a"/>
<rect x="168.79" y="527.59" width="1.28" height="1.01" fill="#6a6a6a"/>
<rect x="170.49" y="527.48" width="1.30" height="1.12" fill="#6a6a6a"/>
<rect x="174.36" y="527.43" width="0.41" height="1.17" fill="#6a6a6a"/>
<rect x="177.61" y="527.60" width="1.20" height="1.00" fill="#6a6a6a"/>
<rect x="180.48" y="527.49" width="1.46" height="1.11" fill="#6a6a6a"/>
<rect x="182.44" y="527.31" width="1.00" height="1.29" fill="#6a6a6a"/>
<rect x="185.16" y="527.58" width="0.73" height="1.02" fill="#6a6a6a"/>
<rect x="186.51" y="527.55" width="0.90" height="1.05" fill="#6a6a6a"/>
<rect x="188.97" y="527.85" width="1.58" height="0.75" fill="#6a6a6a"/>
<rect x="192.16" y="527.50" width="0.45" height="1.10" fill="#6a6a6a"/>
<rect x="194.09" y="527.58" width="0.42" height="1.02" fill="#6a6a6a"/>
<rect x="196.06" y="527.87" width="0.68" height="0.73" fill="#6a6a6a"/>
<rect x="200.20" y="527.77" width="0.64" height="0.83" fill="#6a6a6a"/>
<rect x="201.84" y="527.71" width="1.26" height="0.89" fill="#6a6a6a"/>
<rect x="204.45" y="527.37" width="1.02" height="1.23" fill="#6a6a6a"/>
<rect x="206.96" y="527.25" width="1.49" height="1.35" fill="#6a6a6a"/>
<rect x="208.94" y="527.26" width="0.94" height="1.34" fill="#6a6a6a"/>
<rect x="211.04" y="527.24" width="1.46" height="1.36" fill="#6a6a6a"/>
<rect x="213.77" y="527.33" width="0.65" height="1.27" fill="#6a6a6a"/>
<rect x="219.73" y="527.51" width="0.50" height="1.09" fill="#6a6a6a"/>
<rect x="221.26" y="527.86" width="0.43" height="0.74" fill="#6a6a6a"/>
<rect x="222.25" y="527.80" width="0.80" height="0.80" fill="#6a6a6a"/>
<rect x="226.44" y="527.75" width="1.54" height="0.85" fill="#6a6a6a"/>
<rect x="228.71" y="527.53" width="1.27" height="1.07" fill="#6a6a6a"/>
<rect x="232.51" y="527.07" width="1.42" height="1.53" fill="#6a6a6a"/>
<rect x="234.53" y="527.48" width="1.04" height="1.12" fill="#6a6a6a"/>
<rect x="237.33" y="527.34" width="1.02" height="1.26" fill="#6a6a6a"/>
<rect x="239.39" y="527.52" width="1.23" height="1.08" fill="#6a6a6a"/>
<rect x="242.35" y="527.57" width="1.51" height="1.03" fill="#6a6a6a"/>
<rect x="244.81" y="527.13" width="1.38" height="1.47" fill="#6a6a6a"/>
<rect x="246.77" y="527.62" width="1.14" height="0.98" fill="#6a6a6a"/>
<rect x="248.25" y="527.42" width="0.63" height="1.18" fill="#6a6a6a"/>
<rect x="249.72" y="527.39" width="1.14" height="1.21" fill="#6a6a6a"/>
<rect x="251.93" y="527.53" width="0.70" height="1.07" fill="#6a6a6a"/>
<rect x="253.49" y="527.79" width="0.90" height="0.81" fill="#6a6a6a"/>
<rect x="255.63" y="527.30" width="1.17" height="1.30" fill="#6a6a6a"/>
<rect x="262.25" y="527.39" width="0.56" height="1.21" fill="#6a6a6a"/>
<rect x="263.25" y="527.35" width="1.40" height="1.25" fill="#6a6a6a"/>
<rect x="265.56" y="527.76" width="1.22" height="0.84" fill="#6a6a6a"/>
<rect x="268.45" y="527.55" width="1.56" height="1.05" fill="#6a6a6a"/>
<rect x="271.06" y="527.85" width="1.22" height="0.75" fill="#6a6a6a"/>
<rect x="272.64" y="527.50" width="1.06" height="1.10" fill="#6a6a6a"/>
<rect x="275.37" y="527.15" width="0.47" height="1.45" fill="#6a6a6a"/>
<rect x="276.63" y="527.60" width="0.96" height="1.00" fill="#6a6a6a"/>
<rect x="277.91" y="527.77" width="1.24" height="0.83" fill="#6a6a6a"/>
<rect x="280.56" y="527.78" width="0.89" height="0.82" fill="#6a6a6a"/>
<rect x="286.88" y="526.76" width="0.71" height="1.84" fill="#6a6a6a"/>
<rect x="289.11" y="526.57" width="0.89" height="2.03" fill="#6a6a6a"/>
<rect x="291.45" y="527.39" width="1.32" height="1.21" fill="#6a6a6a"/>
<rect x="293.58" y="527.65" width="0.96" height="0.95" fill="#6a6a6a"/>
<rect x="295.78" y="526.87" width="0.68" height="1.73" fill="#6a6a6a"/>
<rect x="300.09" y="527.21" width="1.24" height="1.39" fill="#6a6a6a"/>
<rect x="302.56" y="527.62" width="1.29" height="0.98" fill="#6a6a6a"/>
<rect x="308.68" y="527.48" width="1.37" height="1.12" fill="#6a6a6a"/>
<rect x="310.42" y="527.57" width="1.52" height="1.03" fill="#6a6a6a"/>
<rect x="312.98" y="527.24" width="1.13" height="1.36" fill="#6a6a6a"/>
<rect x="315.20" y="527.70" width="1.12" height="0.90" fill="#6a6a6a"/>
<rect x="317.46" y="527.69" width="0.74" height="0.91" fill="#6a6a6a"/>
<rect x="318.87" y="527.37" width="0.45" height="1.23" fill="#6a6a6a"/>
<rect x="324.83" y="526.79" width="1.03" height="1.81" fill="#6a6a6a"/>
<rect x="327.62" y="527.82" width="1.38" height="0.78" fill="#6a6a6a"/>
<rect x="329.99" y="527.53" width="0.64" height="1.07" fill="#6a6a6a"/>
<rect x="331.60" y="527.72" width="1.20" height="0.88" fill="#6a6a6a"/>
<rect x="336.46" y="527.28" width="0.69" height="1.32" fill="#6a6a6a"/>
<rect x="338.38" y="527.42" width="0.83" height="1.18" fill="#6a6a6a"/>
<rect x="340.40" y="527.77" width="1.16" height="0.83" fill="#6a6a6a"/>
<rect x="343.33" y="527.74" width="1.50" height="0.86" fill="#6a6a6a"/>
<rect x="345.54" y="527.83" width="0.91" height="0.77" fill="#6a6a6a"/>
<rect x="346.86" y="527.51" width="0.50" height="1.09" fill="#6a6a6a"/>
<rect x="348.22" y="527.66" width="0.97" height="0.94" fill="#6a6a6a"/>
<rect x="350.75" y="527.33" width="0.49" height="1.27" fill="#6a6a6a"/>
<rect x="352.69" y="527.72" width="0.66" height="0.88" fill="#6a6a6a"/>
<rect x="354.20" y="527.34" width="1.18" height="1.26" fill="#6a6a6a"/>
<rect x="356.81" y="527.64" width="1.50" height="0.96" fill="#6a6a6a"/>
<rect x="359.93" y="527.51" width="0.49" height="1.09" fill="#6a6a6a"/>
<rect x="361.75" y="527.85" width="0.76" height="0.75" fill="#6a6a6a"/>
<rect x="363.80" y="527.39" width="0.50" height="1.21" fill="#6a6a6a"/>
<rect x="365.02" y="527.39" width="0.57" height="1.21" fill="#6a6a6a"/>
<rect x="368.99" y="527.69" width="0.93" height="0.91" fill="#6a6a6a"/>
<rect x="370.82" y="527.45" width="1.52" height="1.15" fill="#6a6a6a"/>
<rect x="373.19" y="527.63" width="0.84" height="0.97" fill="#6a6a6a"/>
<rect x="375.17" y="527.31" width="1.36" height="1.29" fill="#6a6a6a"/>
<rect x="377.09" y="527.41" width="1.31" height="1.19" fill="#6a6a6a"/>
<rect x="379.47" y="527.22" width="1.05" height="1.38" fill="#6a6a6a"/>
<rect x="382.03" y="527.35" width="0.48" height="1.25" fill="#6a6a6a"/>
<rect x="382.93" y="527.68" width="1.28" height="0.92" fill="#6a6a6a"/>
<rect x="384.73" y="527.73" width="1.29" height="0.87" fill="#6a6a6a"/>
<rect x="387.47" y="527.62" width="1.03" height="0.98" fill="#6a6a6a"/>
<rect x="390.25" y="527.52" width="1.21" height="1.08" fill="#6a6a6a"/>
<rect x="392.82" y="527.32" width="1.50" height="1.28" fill="#6a6a6a"/>
<rect x="398.53" y="527.34" width="1.03" height="1.26" fill="#6a6a6a"/>
<rect x="400.49" y="527.21" width="0.58" height="1.39" fill="#6a6a6a"/>
<rect x="402.65" y="527.45" width="0.77" height="1.15" fill="#6a6a6a"/>
<rect x="404.82" y="527.75" width="0.53" height="0.85" fill="#6a6a6a"/>
<rect x="406.72" y="527.77" width="1.11" height="0.83" fill="#6a6a6a"/>
<rect x="408.40" y="527.52" width="1.31" height="1.08" fill="#6a6a6a"/>
<rect x="410.72" y="526.52" width="0.71" height="2.08" fill="#6a6a6a"/>
<rect x="412.56" y="527.75" width="1.55" height="0.85" fill="#6a6a6a"/>
<rect x="415.83" y="527.53" width="1.36" height="1.07" fill="#6a6a6a"/>
<rect x="417.90" y="527.73" width="1.59" height="0.87" fill="#6a6a6a"/>
<rect x="420.50" y="527.40" width="0.85" height="1.20" fill="#6a6a6a"/>
<rect x="423.54" y="527.43" width="1.16" height="1.17" fill="#6a6a6a"/>
<rect x="425.23" y="527.33" width="1.32" height="1.27" fill="#6a6a6a"/>
<rect x="428.09" y="527.40" width="0.50" height="1.20" fill="#6a6a6a"/>
<rect x="431.33" y="527.26" width="1.35" height="1.34" fill="#6a6a6a"/>
<rect x="434.21" y="527.53" width="0.65" height="1.07" fill="#6a6a6a"/>
<rect x="436.41" y="527.85" width="0.77" height="0.75" fill="#6a6a6a"/>
<rect x="438.19" y="527.42" width="1.26" height="1.18" fill="#6a6a6a"/>
<rect x="440.34" y="526.64" width="0.95" height="1.96" fill="#6a6a6a"/>
<rect x="441.61" y="527.73" width="0.85" height="0.87" fill="#6a6a6a"/>
<rect x="443.45" y="526.68" width="0.41" height="1.92" fill="#6a6a6a"/>
<rect x="445.08" y="527.52" width="0.75" height="1.08" fill="#6a6a6a"/>
<rect x="446.64" y="527.72" width="0.87" height="0.88" fill="#6a6a6a"/>
<rect x="448.91" y="527.01" width="0.80" height="1.59" fill="#6a6a6a"/>
<rect x="450.50" y="527.80" width="1.39" height="0.80" fill="#6a6a6a"/>
<rect x="453.21" y="527.62" width="1.25" height="0.98" fill="#6a6a6a"/>
<rect x="455.65" y="527.79" width="0.51" height="0.81" fill="#6a6a6a"/>
<rect x="457.07" y="527.20" width="0.49" height="1.40" fill="#6a6a6a"/>
<rect x="458.82" y="527.63" width="1.32" height="0.97" fill="#6a6a6a"/>
<rect x="462.97" y="527.89" width="1.19" height="0.71" fill="#6a6a6a"/>
<rect x="464.97" y="527.64" width="1.18" height="0.96" fill="#6a6a6a"/>
<rect x="467.64" y="527.79" width="1.39" height="0.81" fill="#6a6a6a"/>
<rect x="470.68" y="527.55" width="1.06" height="1.05" fill="#6a6a6a"/>
<rect x="172.20" y="526.00" width="0.60" height="2.60" fill="#a0a0a0"/>
<rect x="174.30" y="526.40" width="0.60" height="2.20" fill="#a0a0a0"/>
<rect x="175.90" y="525.20" width="0.60" height="3.40" fill="#a0a0a0"/>
<rect x="175.90" y="527.07" width="0.60" height="1.53" fill="#6a6a6a"/>
<rect x="99.10" y="523.80" width="0.60" height="4.80" fill="#a0a0a0"/>
<rect x="99.10" y="526.44" width="0.60" height="2.16" fill="#6a6a6a"/>
<rect x="100.30" y="526.10" width="0.60" height="2.50" fill="#a0a0a0"/>
<rect x="103.90" y="522.50" width="0.60" height="6.10" fill="#a0a0a0"/>
<rect x="103.90" y="525.86" width="0.60" height="2.75" fill="#6a6a6a"/>
<rect x="104.90" y="526.60" width="0.60" height="2.00" fill="#a0a0a0"/>
<rect x="128.00" y="515.60" width="0.60" height="13.00" fill="#a0a0a0"/>
<rect x="128.00" y="522.75" width="0.60" height="5.85" fill="#6a6a6a"/>
<rect x="140.50" y="524.40" width="0.60" height="4.20" fill="#a0a0a0"/>
<rect x="140.50" y="526.71" width="0.60" height="1.89" fill="#6a6a6a"/>
<rect x="178.40" y="511.90" width="0.60" height="16.70" fill="#a0a0a0"/>
<rect x="178.40" y="521.09" width="0.60" height="7.51" fill="#6a6a6a"/>
<rect x="300.70" y="522.30" width="0.60" height="6.30" fill="#a0a0a0"/>
<rect x="300.70" y="525.76" width="0.60" height="2.83" fill="#6a6a6a"/>
<rect x="302.60" y="520.60" width="0.60" height="8.00" fill="#a0a0a0"/>
<rect x="302.60" y="525.00" width="0.60" height="3.60" fill="#6a6a6a"/>
<rect x="303.50" y="525.60" width="0.60" height="3.00" fill="#a0a0a0"/>
<rect x="306.00" y="520.00" width="0.60" height="8.60" fill="#a0a0a0"/>
<rect x="306.00" y="524.73" width="0.60" height="3.87" fill="#6a6a6a"/>
<rect x="307.40" y="520.00" width="0.60" height="8.60" fill="#a0a0a0"/>
<rect x="307.40" y="524.73" width="0.60" height="3.87" fill="#6a6a6a"/>
<rect x="314.10" y="524.40" width="0.60" height="4.20" fill="#a0a0a0"/>
<rect x="314.10" y="526.71" width="0.60" height="1.89" fill="#6a6a6a"/>
<rect x="318.50" y="520.90" width="0.60" height="7.70" fill="#a0a0a0"/>
<rect x="318.50" y="525.13" width="0.60" height="3.47" fill="#6a6a6a"/>
<rect x="320.50" y="524.10" width="0.60" height="4.50" fill="#a0a0a0"/>
<rect x="320.50" y="526.58" width="0.60" height="2.02" fill="#6a6a6a"/>
<rect x="202.70" y="526.10" width="0.60" height="2.50" fill="#a0a0a0"/>
<rect x="215.70" y="526.10" width="0.60" height="2.50" fill="#a0a0a0"/>
<rect x="228.70" y="525.10" width="0.60" height="3.50" fill="#a0a0a0"/>
<rect x="228.70" y="527.02" width="0.60" height="1.57" fill="#6a6a6a"/>
<rect x="256.70" y="526.10" width="0.60" height="2.50" fill="#a0a0a0"/>
<rect x="276.70" y="526.60" width="0.60" height="2.00" fill="#a0a0a0"/>
<rect x="94.50" y="547.75" width="2.32" height="0.90" fill="#a8a8a8"/>
<rect x="97.82" y="547.75" width="1.26" height="0.90" fill="#a8a8a8"/>
<rect x="103.95" y="547.75" width="1.68" height="0.90" fill="#a8a8a8"/>
<rect x="106.65" y="547.75" width="2.72" height="0.90" fill="#a8a8a8"/>
<rect x="110.37" y="547.75" width="1.26" height="0.90" fill="#a8a8a8"/>
<rect x="112.18" y="547.75" width="3.70" height="0.90" fill="#a8a8a8"/>
<rect x="122.97" y="547.75" width="1.04" height="0.90" fill="#a8a8a8"/>
<rect x="124.71" y="547.75" width="2.09" height="0.90" fill="#a8a8a8"/>
<rect x="127.22" y="547.75" width="0.99" height="0.90" fill="#a8a8a8"/>
<rect x="129.08" y="547.75" width="1.09" height="0.90" fill="#a8a8a8"/>
<rect x="131.42" y="547.75" width="1.16" height="0.90" fill="#a8a8a8"/>
<rect x="133.10" y="547.75" width="1.80" height="0.90" fill="#a8a8a8"/>
<rect x="135.45" y="547.75" width="3.03" height="0.90" fill="#a8a8a8"/>
<rect x="142.34" y="547.75" width="3.41" height="0.90" fill="#a8a8a8"/>
<rect x="146.52" y="547.75" width="2.71" height="0.90" fill="#a8a8a8"/>
<rect x="149.98" y="547.75" width="0.90" height="0.90" fill="#a8a8a8"/>
<rect x="152.14" y="547.75" width="3.92" height="0.90" fill="#a8a8a8"/>
<rect x="156.79" y="547.75" width="1.96" height="0.90" fill="#a8a8a8"/>
<rect x="159.76" y="547.75" width="1.16" height="0.90" fill="#a8a8a8"/>
<rect x="161.65" y="547.75" width="2.44" height="0.90" fill="#a8a8a8"/>
<rect x="164.93" y="547.75" width="0.89" height="0.90" fill="#a8a8a8"/>
<rect x="166.61" y="547.75" width="2.46" height="0.90" fill="#a8a8a8"/>
<rect x="169.86" y="547.75" width="2.04" height="0.90" fill="#a8a8a8"/>
<rect x="172.39" y="547.75" width="2.56" height="0.90" fill="#a8a8a8"/>
<rect x="175.98" y="547.75" width="0.92" height="0.90" fill="#a8a8a8"/>
<rect x="177.61" y="547.75" width="2.84" height="0.90" fill="#a8a8a8"/>
<rect x="185.74" y="547.75" width="1.47" height="0.90" fill="#a8a8a8"/>
<rect x="188.04" y="547.75" width="3.87" height="0.90" fill="#a8a8a8"/>
<rect x="193.17" y="547.75" width="1.34" height="0.90" fill="#a8a8a8"/>
<rect x="195.23" y="547.75" width="1.41" height="0.90" fill="#a8a8a8"/>
<rect x="197.86" y="547.75" width="0.82" height="0.90" fill="#a8a8a8"/>
<rect x="199.77" y="547.75" width="1.89" height="0.90" fill="#a8a8a8"/>
<rect x="202.07" y="547.75" width="0.93" height="0.90" fill="#a8a8a8"/>
<rect x="204.29" y="547.75" width="4.00" height="0.90" fill="#a8a8a8"/>
<rect x="208.70" y="547.75" width="1.83" height="0.90" fill="#a8a8a8"/>
<rect x="211.68" y="547.75" width="2.85" height="0.90" fill="#a8a8a8"/>
<rect x="215.40" y="547.75" width="2.33" height="0.90" fill="#a8a8a8"/>
<rect x="218.37" y="547.75" width="3.83" height="0.90" fill="#a8a8a8"/>
<rect x="222.74" y="547.75" width="1.73" height="0.90" fill="#a8a8a8"/>
<rect x="225.13" y="547.75" width="3.82" height="0.90" fill="#a8a8a8"/>
<rect x="229.97" y="547.75" width="3.06" height="0.90" fill="#a8a8a8"/>
<rect x="233.68" y="547.75" width="1.62" height="0.90" fill="#a8a8a8"/>
<rect x="236.32" y="547.75" width="1.22" height="0.90" fill="#a8a8a8"/>
<rect x="238.32" y="547.75" width="1.57" height="0.90" fill="#a8a8a8"/>
<rect x="241.18" y="547.75" width="2.59" height="0.90" fill="#a8a8a8"/>
<rect x="245.00" y="547.75" width="3.88" height="0.90" fill="#a8a8a8"/>
<rect x="249.65" y="547.75" width="2.68" height="0.90" fill="#a8a8a8"/>
<rect x="253.45" y="547.75" width="2.66" height="0.90" fill="#a8a8a8"/>
<rect x="256.83" y="547.75" width="3.15" height="0.90" fill="#a8a8a8"/>
<rect x="260.40" y="547.75" width="3.07" height="0.90" fill="#a8a8a8"/>
<rect x="264.59" y="547.75" width="3.67" height="0.90" fill="#a8a8a8"/>
<rect x="269.15" y="547.75" width="3.33" height="0.90" fill="#a8a8a8"/>
<rect x="272.96" y="547.75" width="1.93" height="0.90" fill="#a8a8a8"/>
<rect x="276.13" y="547.75" width="3.01" height="0.90" fill="#a8a8a8"/>
<rect x="280.10" y="547.75" width="1.20" height="0.90" fill="#a8a8a8"/>
<rect x="282.33" y="547.75" width="2.06" height="0.90" fill="#a8a8a8"/>
<rect x="285.15" y="547.75" width="1.84" height="0.90" fill="#a8a8a8"/>
<rect x="287.52" y="547.75" width="1.09" height="0.90" fill="#a8a8a8"/>
<rect x="289.63" y="547.75" width="3.23" height="0.90" fill="#a8a8a8"/>
<rect x="294.10" y="547.75" width="1.97" height="0.90" fill="#a8a8a8"/>
<rect x="301.51" y="547.75" width="2.22" height="0.90" fill="#a8a8a8"/>
<rect x="304.73" y="547.75" width="1.89" height="0.90" fill="#a8a8a8"/>
<rect x="307.32" y="547.75" width="3.82" height="0.90" fill="#a8a8a8"/>
<rect x="315.94" y="547.75" width="1.70" height="0.90" fill="#a8a8a8"/>
<rect x="318.43" y="547.75" width="1.51" height="0.90" fill="#a8a8a8"/>
<rect x="320.78" y="547.75" width="3.03" height="0.90" fill="#a8a8a8"/>
<rect x="324.64" y="547.75" width="2.74" height="0.90" fill="#a8a8a8"/>
<rect x="328.00" y="547.75" width="2.27" height="0.90" fill="#a8a8a8"/>
<rect x="331.42" y="547.75" width="1.53" height="0.90" fill="#a8a8a8"/>
<rect x="334.03" y="547.75" width="2.06" height="0.90" fill="#a8a8a8"/>
<rect x="337.10" y="547.75" width="3.91" height="0.90" fill="#a8a8a8"/>
<rect x="342.02" y="547.75" width="1.92" height="0.90" fill="#a8a8a8"/>
<rect x="344.63" y="547.75" width="2.40" height="0.90" fill="#a8a8a8"/>
<rect x="347.71" y="547.75" width="1.23" height="0.90" fill="#a8a8a8"/>
<rect x="349.83" y="547.75" width="1.61" height="0.90" fill="#a8a8a8"/>
<rect x="358.46" y="547.75" width="1.71" height="0.90" fill="#a8a8a8"/>
<rect x="361.11" y="547.75" width="2.05" height="0.90" fill="#a8a8a8"/>
<rect x="364.36" y="547.75" width="1.83" height="0.90" fill="#a8a8a8"/>
<rect x="367.17" y="547.75" width="3.50" height="0.90" fill="#a8a8a8"/>
<rect x="371.77" y="547.75" width="2.12" height="0.90" fill="#a8a8a8"/>
<rect x="374.52" y="547.75" width="2.10" height="0.90" fill="#a8a8a8"/>
<rect x="377.37" y="547.75" width="2.08" height="0.90" fill="#a8a8a8"/>
<rect x="380.00" y="547.75" width="1.46" height="0.90" fill="#a8a8a8"/>
<rect x="382.73" y="547.75" width="2.47" height="0.90" fill="#a8a8a8"/>
<rect x="392.38" y="547.75" width="3.60" height="0.90" fill="#a8a8a8"/>
<rect x="396.70" y="547.75" width="3.15" height="0.90" fill="#a8a8a8"/>
<rect x="400.38" y="547.75" width="3.57" height="0.90" fill="#a8a8a8"/>
<rect x="404.54" y="547.75" width="3.62" height="0.90" fill="#a8a8a8"/>
<rect x="412.69" y="547.75" width="0.84" height="0.90" fill="#a8a8a8"/>
<rect x="414.08" y="547.75" width="3.09" height="0.90" fill="#a8a8a8"/>
<rect x="417.74" y="547.75" width="1.39" height="0.90" fill="#a8a8a8"/>
<rect x="420.31" y="547.75" width="2.74" height="0.90" fill="#a8a8a8"/>
<rect x="424.07" y="547.75" width="2.52" height="0.90" fill="#a8a8a8"/>
<rect x="427.46" y="547.75" width="2.88" height="0.90" fill="#a8a8a8"/>
<rect x="431.20" y="547.75" width="2.83" height="0.90" fill="#a8a8a8"/>
<rect x="435.00" y="547.75" width="2.04" height="0.90" fill="#a8a8a8"/>
<rect x="437.91" y="547.75" width="3.09" height="0.90" fill="#a8a8a8"/>
<rect x="442.23" y="547.75" width="2.37" height="0.90" fill="#a8a8a8"/>
<rect x="445.62" y="547.75" width="3.86" height="0.90" fill="#a8a8a8"/>
<rect x="450.27" y="547.75" width="2.10" height="0.90" fill="#a8a8a8"/>
<rect x="453.45" y="547.75" width="3.48" height="0.90" fill="#a8a8a8"/>
<rect x="457.39" y="547.75" width="1.15" height="0.90" fill="#a8a8a8"/>
<rect x="458.98" y="547.75" width="0.83" height="0.90" fill="#a8a8a8"/>
<rect x="460.31" y="547.75" width="2.99" height="0.90" fill="#a8a8a8"/>
<rect x="464.57" y="547.75" width="3.87" height="0.90" fill="#a8a8a8"/>
<rect x="469.70" y="547.75" width="0.89" height="0.90" fill="#a8a8a8"/>
<line x1="94.5" y1="566.6999999999999" x2="471.4" y2="566.6999999999999" stroke="#a8282e" stroke-width="1.0" stroke-opacity="0.75"/>
<rect x="94.50" y="565.62" width="0.71" height="1.18" fill="#a8282e"/>
<rect x="95.79" y="565.94" width="0.68" height="0.86" fill="#a8282e"/>
<rect x="96.96" y="565.89" width="1.04" height="0.91" fill="#a8282e"/>
<rect x="99.56" y="565.91" width="1.13" height="0.89" fill="#a8282e"/>
<rect x="102.29" y="565.52" width="1.37" height="1.28" fill="#a8282e"/>
<rect x="105.39" y="565.51" width="1.35" height="1.29" fill="#a8282e"/>
<rect x="108.17" y="565.85" width="1.08" height="0.95" fill="#a8282e"/>
<rect x="111.90" y="566.01" width="1.07" height="0.79" fill="#a8282e"/>
<rect x="113.93" y="565.73" width="0.61" height="1.07" fill="#a8282e"/>
<rect x="115.53" y="566.01" width="1.13" height="0.79" fill="#a8282e"/>
<rect x="117.31" y="565.84" width="0.68" height="0.96" fill="#a8282e"/>
<rect x="119.27" y="565.60" width="1.54" height="1.20" fill="#a8282e"/>
<rect x="121.18" y="565.51" width="0.57" height="1.29" fill="#a8282e"/>
<rect x="122.29" y="564.65" width="0.90" height="2.15" fill="#a8282e"/>
<rect x="123.79" y="565.60" width="1.42" height="1.20" fill="#a8282e"/>
<rect x="126.97" y="565.95" width="1.12" height="0.85" fill="#a8282e"/>
<rect x="129.27" y="565.59" width="1.11" height="1.21" fill="#a8282e"/>
<rect x="131.12" y="566.02" width="0.60" height="0.78" fill="#a8282e"/>
<rect x="132.12" y="565.72" width="1.17" height="1.08" fill="#a8282e"/>
<rect x="135.54" y="565.68" width="0.76" height="1.12" fill="#a8282e"/>
<rect x="137.31" y="566.10" width="0.84" height="0.70" fill="#a8282e"/>
<rect x="139.20" y="565.77" width="1.56" height="1.03" fill="#a8282e"/>
<rect x="141.50" y="565.46" width="0.44" height="1.34" fill="#a8282e"/>
<rect x="142.63" y="565.92" width="1.22" height="0.88" fill="#a8282e"/>
<rect x="144.68" y="565.96" width="0.69" height="0.84" fill="#a8282e"/>
<rect x="145.73" y="565.57" width="0.88" height="1.23" fill="#a8282e"/>
<rect x="146.92" y="565.76" width="1.33" height="1.04" fill="#a8282e"/>
<rect x="149.05" y="566.00" width="0.75" height="0.80" fill="#a8282e"/>
<rect x="150.26" y="565.89" width="1.39" height="0.91" fill="#a8282e"/>
<rect x="152.00" y="565.79" width="0.55" height="1.01" fill="#a8282e"/>
<rect x="154.34" y="566.01" width="0.45" height="0.79" fill="#a8282e"/>
<rect x="155.57" y="566.01" width="1.47" height="0.79" fill="#a8282e"/>
<rect x="157.72" y="565.76" width="1.44" height="1.04" fill="#a8282e"/>
<rect x="159.98" y="565.60" width="1.36" height="1.20" fill="#a8282e"/>
<rect x="163.04" y="565.23" width="1.02" height="1.57" fill="#a8282e"/>
<rect x="165.30" y="565.65" width="1.41" height="1.15" fill="#a8282e"/>
<rect x="169.93" y="566.08" width="0.50" height="0.72" fill="#a8282e"/>
<rect x="170.89" y="564.50" width="1.26" height="2.30" fill="#a8282e"/>
<rect x="173.09" y="565.60" width="1.15" height="1.20" fill="#a8282e"/>
<rect x="175.68" y="565.40" width="0.53" height="1.40" fill="#a8282e"/>
<rect x="176.91" y="566.10" width="1.34" height="0.70" fill="#a8282e"/>
<rect x="178.94" y="565.48" width="0.80" height="1.32" fill="#a8282e"/>
<rect x="181.32" y="564.81" width="0.90" height="1.99" fill="#a8282e"/>
<rect x="182.91" y="565.10" width="0.95" height="1.70" fill="#a8282e"/>
<rect x="184.73" y="565.70" width="0.97" height="1.10" fill="#a8282e"/>
<rect x="187.23" y="565.69" width="0.61" height="1.11" fill="#a8282e"/>
<rect x="189.47" y="565.52" width="1.00" height="1.28" fill="#a8282e"/>
<rect x="191.89" y="565.43" width="1.18" height="1.37" fill="#a8282e"/>
<rect x="194.66" y="565.99" width="0.57" height="0.81" fill="#a8282e"/>
<rect x="196.28" y="565.76" width="1.51" height="1.04" fill="#a8282e"/>
<rect x="198.46" y="565.79" width="1.04" height="1.01" fill="#a8282e"/>
<rect x="200.31" y="565.61" width="0.66" height="1.19" fill="#a8282e"/>
<rect x="202.64" y="565.46" width="1.29" height="1.34" fill="#a8282e"/>
<rect x="205.46" y="565.60" width="1.40" height="1.20" fill="#a8282e"/>
<rect x="208.04" y="565.59" width="0.71" height="1.21" fill="#a8282e"/>
<rect x="209.13" y="565.74" width="1.17" height="1.06" fill="#a8282e"/>
<rect x="211.92" y="565.75" width="0.86" height="1.05" fill="#a8282e"/>
<rect x="213.70" y="565.43" width="1.52" height="1.37" fill="#a8282e"/>
<rect x="216.52" y="565.84" width="1.50" height="0.96" fill="#a8282e"/>
<rect x="220.90" y="565.58" width="0.89" height="1.22" fill="#a8282e"/>
<rect x="225.56" y="566.05" width="0.54" height="0.75" fill="#a8282e"/>
<rect x="226.71" y="565.61" width="0.59" height="1.19" fill="#a8282e"/>
<rect x="227.95" y="564.94" width="1.08" height="1.86" fill="#a8282e"/>
<rect x="230.38" y="565.60" width="1.36" height="1.20" fill="#a8282e"/>
<rect x="232.97" y="565.55" width="1.02" height="1.25" fill="#a8282e"/>
<rect x="235.35" y="565.93" width="0.91" height="0.87" fill="#a8282e"/>
<rect x="237.43" y="565.44" width="1.06" height="1.36" fill="#a8282e"/>
<rect x="240.81" y="565.89" width="1.37" height="0.91" fill="#a8282e"/>
<rect x="243.14" y="565.70" width="0.53" height="1.10" fill="#a8282e"/>
<rect x="245.03" y="565.85" width="0.68" height="0.95" fill="#a8282e"/>
<rect x="247.34" y="565.54" width="0.51" height="1.26" fill="#a8282e"/>
<rect x="248.82" y="566.10" width="0.91" height="0.70" fill="#a8282e"/>
<rect x="250.39" y="565.77" width="0.58" height="1.03" fill="#a8282e"/>
<rect x="252.40" y="565.58" width="1.30" height="1.22" fill="#a8282e"/>
<rect x="254.94" y="565.68" width="1.53" height="1.12" fill="#a8282e"/>
<rect x="257.51" y="565.67" width="1.06" height="1.13" fill="#a8282e"/>
<rect x="258.90" y="565.80" width="1.35" height="1.00" fill="#a8282e"/>
<rect x="261.38" y="565.68" width="0.88" height="1.12" fill="#a8282e"/>
<rect x="263.74" y="565.57" width="0.93" height="1.23" fill="#a8282e"/>
<rect x="266.08" y="565.71" width="1.47" height="1.09" fill="#a8282e"/>
<rect x="268.21" y="565.47" width="0.92" height="1.33" fill="#a8282e"/>
<rect x="269.96" y="565.51" width="1.29" height="1.29" fill="#a8282e"/>
<rect x="272.70" y="566.06" width="0.92" height="0.74" fill="#a8282e"/>
<rect x="275.12" y="565.80" width="1.28" height="1.00" fill="#a8282e"/>
<rect x="277.75" y="565.67" width="0.94" height="1.13" fill="#a8282e"/>
<rect x="282.04" y="565.13" width="0.94" height="1.67" fill="#a8282e"/>
<rect x="283.37" y="565.93" width="1.36" height="0.87" fill="#a8282e"/>
<rect x="285.65" y="565.19" width="1.52" height="1.61" fill="#a8282e"/>
<rect x="289.88" y="566.09" width="1.35" height="0.71" fill="#a8282e"/>
<rect x="291.98" y="564.93" width="1.23" height="1.87" fill="#a8282e"/>
<rect x="294.42" y="566.02" width="0.70" height="0.78" fill="#a8282e"/>
<rect x="295.52" y="565.71" width="1.03" height="1.09" fill="#a8282e"/>
<rect x="296.89" y="565.48" width="1.15" height="1.32" fill="#a8282e"/>
<rect x="299.83" y="565.65" width="0.57" height="1.15" fill="#a8282e"/>
<rect x="300.91" y="565.55" width="0.69" height="1.25" fill="#a8282e"/>
<rect x="302.76" y="565.74" width="0.49" height="1.06" fill="#a8282e"/>
<rect x="304.48" y="565.78" width="0.69" height="1.02" fill="#a8282e"/>
<rect x="305.64" y="565.63" width="0.93" height="1.17" fill="#a8282e"/>
<rect x="307.26" y="565.95" width="1.26" height="0.85" fill="#a8282e"/>
<rect x="309.63" y="566.10" width="1.37" height="0.70" fill="#a8282e"/>
<rect x="312.17" y="565.79" width="0.91" height="1.01" fill="#a8282e"/>
<rect x="313.79" y="565.23" width="0.57" height="1.57" fill="#a8282e"/>
<rect x="315.99" y="565.67" width="0.53" height="1.13" fill="#a8282e"/>
<rect x="318.17" y="565.48" width="0.61" height="1.32" fill="#a8282e"/>
<rect x="320.15" y="565.43" width="0.96" height="1.37" fill="#a8282e"/>
<rect x="322.52" y="564.81" width="0.81" height="1.99" fill="#a8282e"/>
<rect x="324.94" y="565.60" width="1.11" height="1.20" fill="#a8282e"/>
<rect x="326.47" y="565.90" width="1.10" height="0.90" fill="#a8282e"/>
<rect x="328.49" y="565.70" width="0.64" height="1.10" fill="#a8282e"/>
<rect x="329.50" y="565.19" width="0.77" height="1.61" fill="#a8282e"/>
<rect x="331.21" y="565.95" width="0.49" height="0.85" fill="#a8282e"/>
<rect x="332.92" y="565.44" width="1.21" height="1.36" fill="#a8282e"/>
<rect x="334.68" y="565.58" width="0.79" height="1.22" fill="#a8282e"/>
<rect x="336.42" y="565.43" width="1.49" height="1.37" fill="#a8282e"/>
<rect x="338.44" y="565.63" width="1.30" height="1.17" fill="#a8282e"/>
<rect x="342.74" y="565.47" width="0.66" height="1.33" fill="#a8282e"/>
<rect x="344.97" y="565.58" width="1.16" height="1.22" fill="#a8282e"/>
<rect x="347.85" y="565.59" width="1.56" height="1.21" fill="#a8282e"/>
<rect x="349.87" y="565.89" width="1.45" height="0.91" fill="#a8282e"/>
<rect x="351.72" y="565.49" width="0.91" height="1.31" fill="#a8282e"/>
<rect x="354.26" y="565.87" width="0.53" height="0.93" fill="#a8282e"/>
<rect x="355.23" y="565.97" width="1.19" height="0.83" fill="#a8282e"/>
<rect x="356.90" y="565.19" width="1.22" height="1.61" fill="#a8282e"/>
<rect x="359.02" y="565.98" width="0.84" height="0.82" fill="#a8282e"/>
<rect x="361.19" y="566.00" width="0.98" height="0.80" fill="#a8282e"/>
<rect x="363.00" y="565.66" width="1.40" height="1.14" fill="#a8282e"/>
<rect x="365.56" y="565.44" width="0.90" height="1.36" fill="#a8282e"/>
<rect x="367.08" y="564.74" width="1.48" height="2.06" fill="#a8282e"/>
<rect x="369.02" y="565.51" width="1.26" height="1.29" fill="#a8282e"/>
<rect x="371.32" y="565.70" width="1.02" height="1.10" fill="#a8282e"/>
<rect x="373.31" y="565.97" width="0.93" height="0.83" fill="#a8282e"/>
<rect x="375.80" y="565.90" width="1.56" height="0.90" fill="#a8282e"/>
<rect x="378.95" y="565.88" width="0.71" height="0.92" fill="#a8282e"/>
<rect x="380.19" y="565.45" width="0.68" height="1.35" fill="#a8282e"/>
<rect x="381.60" y="566.04" width="1.10" height="0.76" fill="#a8282e"/>
<rect x="383.71" y="566.09" width="0.82" height="0.71" fill="#a8282e"/>
<rect x="385.09" y="565.53" width="0.69" height="1.27" fill="#a8282e"/>
<rect x="389.06" y="565.80" width="0.80" height="1.00" fill="#a8282e"/>
<rect x="390.79" y="565.55" width="1.13" height="1.25" fill="#a8282e"/>
<rect x="392.66" y="565.92" width="1.47" height="0.88" fill="#a8282e"/>
<rect x="395.16" y="565.50" width="1.12" height="1.30" fill="#a8282e"/>
<rect x="397.24" y="565.51" width="0.84" height="1.29" fill="#a8282e"/>
<rect x="399.69" y="565.88" width="1.03" height="0.92" fill="#a8282e"/>
<rect x="401.25" y="566.04" width="1.51" height="0.76" fill="#a8282e"/>
<rect x="403.70" y="564.81" width="1.37" height="1.99" fill="#a8282e"/>
<rect x="406.01" y="565.65" width="1.54" height="1.15" fill="#a8282e"/>
<rect x="408.56" y="564.55" width="1.01" height="2.25" fill="#a8282e"/>
<rect x="410.37" y="565.70" width="1.45" height="1.10" fill="#a8282e"/>
<rect x="412.94" y="565.55" width="0.77" height="1.25" fill="#a8282e"/>
<rect x="414.84" y="565.42" width="0.42" height="1.38" fill="#a8282e"/>
<rect x="415.72" y="565.14" width="1.48" height="1.66" fill="#a8282e"/>
<rect x="417.95" y="565.79" width="1.28" height="1.01" fill="#a8282e"/>
<rect x="419.68" y="564.61" width="0.87" height="2.19" fill="#a8282e"/>
<rect x="422.02" y="566.00" width="1.46" height="0.80" fill="#a8282e"/>
<rect x="424.79" y="566.07" width="0.81" height="0.73" fill="#a8282e"/>
<rect x="426.31" y="565.85" width="1.16" height="0.95" fill="#a8282e"/>
<rect x="428.62" y="565.98" width="0.79" height="0.82" fill="#a8282e"/>
<rect x="432.71" y="565.67" width="0.71" height="1.13" fill="#a8282e"/>
<rect x="434.73" y="565.65" width="1.49" height="1.15" fill="#a8282e"/>
<rect x="437.93" y="565.77" width="0.70" height="1.03" fill="#a8282e"/>
<rect x="439.43" y="565.83" width="1.02" height="0.97" fill="#a8282e"/>
<rect x="441.44" y="565.98" width="0.89" height="0.82" fill="#a8282e"/>
<rect x="444.12" y="565.66" width="1.42" height="1.14" fill="#a8282e"/>
<rect x="446.32" y="566.03" width="1.59" height="0.77" fill="#a8282e"/>
<rect x="449.10" y="565.13" width="1.01" height="1.67" fill="#a8282e"/>
<rect x="450.73" y="565.75" width="1.10" height="1.05" fill="#a8282e"/>
<rect x="452.50" y="565.04" width="1.41" height="1.76" fill="#a8282e"/>
<rect x="454.70" y="565.67" width="0.59" height="1.13" fill="#a8282e"/>
<rect x="456.63" y="565.26" width="1.21" height="1.54" fill="#a8282e"/>
<rect x="458.52" y="565.73" width="1.40" height="1.07" fill="#a8282e"/>
<rect x="461.59" y="565.77" width="0.46" height="1.03" fill="#a8282e"/>
<rect x="462.71" y="565.89" width="0.93" height="0.91" fill="#a8282e"/>
<rect x="464.03" y="565.50" width="0.89" height="1.30" fill="#a8282e"/>
<rect x="466.22" y="565.78" width="1.20" height="1.02" fill="#a8282e"/>
<rect x="467.91" y="565.64" width="1.46" height="1.16" fill="#a8282e"/>
<rect x="470.15" y="565.77" width="0.61" height="1.03" fill="#a8282e"/>
<rect x="173.20" y="565.00" width="0.60" height="1.80" fill="#a8282e"/>
<rect x="175.20" y="564.60" width="0.60" height="2.20" fill="#a8282e"/>
<rect x="103.50" y="558.70" width="0.60" height="8.10" fill="#a8282e"/>
<rect x="178.00" y="561.10" width="0.60" height="5.70" fill="#a8282e"/>
<rect x="314.10" y="562.60" width="0.60" height="4.20" fill="#a8282e"/>
<rect x="128.20" y="564.80" width="0.60" height="2.00" fill="#a8282e"/>
<rect x="190.70" y="564.30" width="0.60" height="2.50" fill="#a8282e"/>
<rect x="217.70" y="564.80" width="0.60" height="2.00" fill="#a8282e"/>
<rect x="302.70" y="564.80" width="0.60" height="2.00" fill="#a8282e"/>
<line x1="94.5" y1="585.6999999999999" x2="471.4" y2="585.6999999999999" stroke="#a8282e" stroke-width="1.0" stroke-opacity="0.75"/>
<rect x="94.50" y="584.64" width="0.53" height="1.16" fill="#a8282e"/>
<rect x="95.73" y="584.64" width="0.71" height="1.16" fill="#a8282e"/>
<rect x="97.77" y="585.02" width="0.88" height="0.78" fill="#a8282e"/>
<rect x="100.30" y="584.54" width="0.83" height="1.26" fill="#a8282e"/>
<rect x="101.65" y="584.98" width="1.06" height="0.82" fill="#a8282e"/>
<rect x="104.91" y="584.67" width="1.59" height="1.13" fill="#a8282e"/>
<rect x="107.83" y="584.66" width="0.53" height="1.14" fill="#a8282e"/>
<rect x="108.80" y="584.96" width="1.45" height="0.84" fill="#a8282e"/>
<rect x="110.88" y="585.03" width="1.36" height="0.77" fill="#a8282e"/>
<rect x="112.67" y="584.58" width="0.74" height="1.22" fill="#a8282e"/>
<rect x="114.50" y="584.62" width="0.51" height="1.18" fill="#a8282e"/>
<rect x="115.99" y="584.68" width="0.98" height="1.12" fill="#a8282e"/>
<rect x="117.98" y="583.49" width="0.68" height="2.31" fill="#a8282e"/>
<rect x="119.18" y="585.09" width="1.24" height="0.71" fill="#a8282e"/>
<rect x="122.14" y="584.70" width="0.91" height="1.10" fill="#a8282e"/>
<rect x="123.75" y="584.66" width="0.76" height="1.14" fill="#a8282e"/>
<rect x="127.24" y="584.30" width="0.74" height="1.50" fill="#a8282e"/>
<rect x="128.33" y="584.94" width="0.58" height="0.86" fill="#a8282e"/>
<rect x="129.60" y="584.46" width="0.70" height="1.34" fill="#a8282e"/>
<rect x="131.74" y="584.68" width="0.84" height="1.12" fill="#a8282e"/>
<rect x="134.02" y="584.84" width="1.01" height="0.96" fill="#a8282e"/>
<rect x="136.77" y="584.88" width="1.06" height="0.92" fill="#a8282e"/>
<rect x="139.04" y="584.14" width="0.70" height="1.66" fill="#a8282e"/>
<rect x="140.43" y="584.62" width="0.52" height="1.18" fill="#a8282e"/>
<rect x="141.65" y="584.83" width="0.94" height="0.97" fill="#a8282e"/>
<rect x="143.27" y="585.01" width="0.84" height="0.79" fill="#a8282e"/>
<rect x="144.63" y="584.63" width="1.27" height="1.17" fill="#a8282e"/>
<rect x="147.17" y="584.45" width="1.19" height="1.35" fill="#a8282e"/>
<rect x="149.50" y="584.91" width="0.46" height="0.89" fill="#a8282e"/>
<rect x="151.65" y="584.62" width="1.44" height="1.18" fill="#a8282e"/>
<rect x="156.33" y="584.70" width="1.39" height="1.10" fill="#a8282e"/>
<rect x="158.48" y="584.69" width="0.56" height="1.11" fill="#a8282e"/>
<rect x="160.02" y="584.73" width="1.34" height="1.07" fill="#a8282e"/>
<rect x="163.12" y="584.65" width="0.70" height="1.15" fill="#a8282e"/>
<rect x="165.61" y="583.50" width="0.68" height="2.30" fill="#a8282e"/>
<rect x="167.87" y="584.86" width="0.88" height="0.94" fill="#a8282e"/>
<rect x="169.10" y="583.67" width="0.56" height="2.13" fill="#a8282e"/>
<rect x="171.41" y="584.79" width="1.03" height="1.01" fill="#a8282e"/>
<rect x="172.84" y="584.54" width="0.93" height="1.26" fill="#a8282e"/>
<rect x="175.09" y="584.96" width="1.56" height="0.84" fill="#a8282e"/>
<rect x="178.25" y="584.74" width="0.97" height="1.06" fill="#a8282e"/>
<rect x="179.85" y="584.50" width="0.68" height="1.30" fill="#a8282e"/>
<rect x="180.97" y="585.08" width="1.44" height="0.72" fill="#a8282e"/>
<rect x="183.74" y="584.80" width="1.18" height="1.00" fill="#a8282e"/>
<rect x="186.33" y="584.97" width="1.15" height="0.83" fill="#a8282e"/>
<rect x="188.82" y="584.77" width="0.86" height="1.03" fill="#a8282e"/>
<rect x="190.51" y="584.88" width="1.00" height="0.92" fill="#a8282e"/>
<rect x="192.76" y="584.42" width="0.56" height="1.38" fill="#a8282e"/>
<rect x="194.42" y="584.62" width="0.58" height="1.18" fill="#a8282e"/>
<rect x="196.26" y="584.56" width="0.84" height="1.24" fill="#a8282e"/>
<rect x="197.43" y="585.01" width="1.01" height="0.79" fill="#a8282e"/>
<rect x="200.10" y="584.77" width="0.77" height="1.03" fill="#a8282e"/>
<rect x="201.70" y="584.02" width="0.82" height="1.78" fill="#a8282e"/>
<rect x="204.04" y="585.09" width="1.60" height="0.71" fill="#a8282e"/>
<rect x="207.29" y="584.55" width="0.61" height="1.25" fill="#a8282e"/>
<rect x="209.47" y="584.68" width="0.67" height="1.12" fill="#a8282e"/>
<rect x="211.60" y="584.57" width="0.93" height="1.23" fill="#a8282e"/>
<rect x="214.06" y="584.69" width="1.39" height="1.11" fill="#a8282e"/>
<rect x="216.56" y="584.73" width="1.30" height="1.07" fill="#a8282e"/>
<rect x="219.45" y="585.04" width="1.15" height="0.76" fill="#a8282e"/>
<rect x="221.04" y="584.47" width="1.07" height="1.33" fill="#a8282e"/>
<rect x="223.12" y="585.05" width="0.97" height="0.75" fill="#a8282e"/>
<rect x="225.84" y="584.33" width="0.83" height="1.47" fill="#a8282e"/>
<rect x="227.66" y="584.66" width="1.57" height="1.14" fill="#a8282e"/>
<rect x="230.20" y="584.84" width="0.42" height="0.96" fill="#a8282e"/>
<rect x="231.08" y="584.45" width="1.01" height="1.35" fill="#a8282e"/>
<rect x="233.03" y="584.21" width="0.61" height="1.59" fill="#a8282e"/>
<rect x="235.18" y="583.82" width="1.07" height="1.98" fill="#a8282e"/>
<rect x="236.78" y="584.61" width="1.53" height="1.19" fill="#a8282e"/>
<rect x="238.98" y="584.43" width="0.76" height="1.37" fill="#a8282e"/>
<rect x="240.40" y="584.95" width="1.16" height="0.85" fill="#a8282e"/>
<rect x="242.21" y="584.64" width="0.41" height="1.16" fill="#a8282e"/>
<rect x="244.27" y="584.42" width="1.07" height="1.38" fill="#a8282e"/>
<rect x="246.85" y="584.51" width="1.38" height="1.29" fill="#a8282e"/>
<rect x="249.29" y="584.93" width="1.54" height="0.87" fill="#a8282e"/>
<rect x="255.10" y="584.46" width="1.52" height="1.34" fill="#a8282e"/>
<rect x="257.11" y="584.42" width="1.17" height="1.38" fill="#a8282e"/>
<rect x="259.21" y="584.72" width="0.75" height="1.08" fill="#a8282e"/>
<rect x="260.28" y="584.43" width="0.81" height="1.37" fill="#a8282e"/>
<rect x="262.06" y="584.83" width="1.52" height="0.97" fill="#a8282e"/>
<rect x="264.24" y="584.74" width="1.24" height="1.06" fill="#a8282e"/>
<rect x="266.94" y="584.44" width="1.29" height="1.36" fill="#a8282e"/>
<rect x="269.93" y="584.85" width="1.26" height="0.95" fill="#a8282e"/>
<rect x="272.20" y="584.84" width="1.30" height="0.96" fill="#a8282e"/>
<rect x="274.89" y="584.59" width="0.75" height="1.21" fill="#a8282e"/>
<rect x="277.36" y="584.45" width="1.20" height="1.35" fill="#a8282e"/>
<rect x="279.47" y="584.68" width="1.51" height="1.12" fill="#a8282e"/>
<rect x="281.55" y="584.45" width="0.45" height="1.35" fill="#a8282e"/>
<rect x="282.78" y="584.49" width="1.01" height="1.31" fill="#a8282e"/>
<rect x="284.22" y="584.94" width="1.60" height="0.86" fill="#a8282e"/>
<rect x="287.44" y="584.54" width="0.80" height="1.26" fill="#a8282e"/>
<rect x="289.79" y="585.09" width="0.42" height="0.71" fill="#a8282e"/>
<rect x="290.55" y="584.67" width="0.51" height="1.13" fill="#a8282e"/>
<rect x="292.32" y="585.07" width="0.52" height="0.73" fill="#a8282e"/>
<rect x="297.24" y="584.48" width="1.56" height="1.32" fill="#a8282e"/>
<rect x="300.28" y="584.75" width="1.01" height="1.05" fill="#a8282e"/>
<rect x="302.31" y="584.87" width="0.45" height="0.93" fill="#a8282e"/>
<rect x="304.25" y="584.45" width="1.03" height="1.35" fill="#a8282e"/>
<rect x="308.34" y="585.09" width="1.59" height="0.71" fill="#a8282e"/>
<rect x="310.34" y="583.73" width="1.31" height="2.07" fill="#a8282e"/>
<rect x="312.52" y="584.82" width="0.86" height="0.98" fill="#a8282e"/>
<rect x="314.89" y="584.50" width="1.05" height="1.30" fill="#a8282e"/>
<rect x="317.55" y="584.68" width="1.26" height="1.12" fill="#a8282e"/>
<rect x="320.46" y="584.43" width="1.59" height="1.37" fill="#a8282e"/>
<rect x="323.75" y="585.02" width="1.46" height="0.78" fill="#a8282e"/>
<rect x="326.08" y="584.68" width="0.80" height="1.12" fill="#a8282e"/>
<rect x="327.52" y="585.03" width="1.44" height="0.77" fill="#a8282e"/>
<rect x="329.95" y="584.90" width="1.30" height="0.90" fill="#a8282e"/>
<rect x="332.37" y="584.53" width="0.56" height="1.27" fill="#a8282e"/>
<rect x="333.62" y="584.77" width="0.98" height="1.03" fill="#a8282e"/>
<rect x="334.89" y="584.41" width="1.18" height="1.39" fill="#a8282e"/>
<rect x="337.39" y="584.67" width="0.59" height="1.13" fill="#a8282e"/>
<rect x="338.53" y="584.49" width="0.64" height="1.31" fill="#a8282e"/>
<rect x="340.49" y="584.81" width="1.04" height="0.99" fill="#a8282e"/>
<rect x="341.99" y="585.02" width="1.06" height="0.78" fill="#a8282e"/>
<rect x="343.60" y="584.70" width="0.88" height="1.10" fill="#a8282e"/>
<rect x="346.09" y="584.54" width="1.52" height="1.26" fill="#a8282e"/>
<rect x="350.95" y="584.59" width="1.36" height="1.21" fill="#a8282e"/>
<rect x="353.22" y="584.70" width="0.86" height="1.10" fill="#a8282e"/>
<rect x="355.78" y="585.01" width="0.45" height="0.79" fill="#a8282e"/>
<rect x="356.85" y="584.60" width="1.53" height="1.20" fill="#a8282e"/>
<rect x="359.94" y="584.45" width="1.42" height="1.35" fill="#a8282e"/>
<rect x="361.84" y="584.70" width="0.69" height="1.10" fill="#a8282e"/>
<rect x="363.15" y="584.43" width="0.97" height="1.37" fill="#a8282e"/>
<rect x="365.47" y="585.03" width="0.94" height="0.77" fill="#a8282e"/>
<rect x="367.81" y="584.86" width="0.64" height="0.94" fill="#a8282e"/>
<rect x="369.31" y="583.71" width="0.99" height="2.09" fill="#a8282e"/>
<rect x="372.14" y="584.70" width="0.63" height="1.10" fill="#a8282e"/>
<rect x="373.10" y="584.52" width="1.06" height="1.28" fill="#a8282e"/>
<rect x="375.16" y="584.44" width="1.60" height="1.36" fill="#a8282e"/>
<rect x="377.18" y="584.63" width="0.90" height="1.17" fill="#a8282e"/>
<rect x="379.44" y="583.68" width="0.75" height="2.12" fill="#a8282e"/>
<rect x="380.56" y="584.79" width="0.47" height="1.01" fill="#a8282e"/>
<rect x="381.54" y="584.15" width="0.47" height="1.65" fill="#a8282e"/>
<rect x="382.54" y="584.54" width="0.74" height="1.26" fill="#a8282e"/>
<rect x="384.80" y="584.50" width="0.49" height="1.30" fill="#a8282e"/>
<rect x="386.76" y="584.58" width="0.42" height="1.22" fill="#a8282e"/>
<rect x="387.62" y="584.90" width="1.57" height="0.90" fill="#a8282e"/>
<rect x="389.74" y="584.68" width="1.14" height="1.12" fill="#a8282e"/>
<rect x="392.42" y="584.99" width="0.89" height="0.81" fill="#a8282e"/>
<rect x="394.78" y="583.99" width="0.48" height="1.81" fill="#a8282e"/>
<rect x="396.97" y="584.71" width="1.59" height="1.09" fill="#a8282e"/>
<rect x="399.06" y="584.49" width="0.49" height="1.31" fill="#a8282e"/>
<rect x="400.12" y="584.51" width="0.74" height="1.29" fill="#a8282e"/>
<rect x="401.25" y="584.53" width="1.25" height="1.27" fill="#a8282e"/>
<rect x="403.21" y="584.76" width="0.96" height="1.04" fill="#a8282e"/>
<rect x="405.84" y="584.51" width="1.60" height="1.29" fill="#a8282e"/>
<rect x="408.98" y="584.76" width="0.81" height="1.04" fill="#a8282e"/>
<rect x="410.70" y="585.01" width="1.01" height="0.79" fill="#a8282e"/>
<rect x="412.37" y="584.08" width="0.52" height="1.72" fill="#a8282e"/>
<rect x="413.67" y="584.87" width="0.72" height="0.93" fill="#a8282e"/>
<rect x="415.01" y="583.75" width="1.22" height="2.05" fill="#a8282e"/>
<rect x="417.26" y="584.44" width="1.38" height="1.36" fill="#a8282e"/>
<rect x="419.10" y="584.76" width="0.41" height="1.04" fill="#a8282e"/>
<rect x="420.69" y="583.96" width="0.98" height="1.84" fill="#a8282e"/>
<rect x="422.57" y="584.48" width="0.59" height="1.32" fill="#a8282e"/>
<rect x="424.12" y="584.92" width="0.92" height="0.88" fill="#a8282e"/>
<rect x="426.25" y="585.03" width="1.37" height="0.77" fill="#a8282e"/>
<rect x="428.40" y="584.96" width="1.57" height="0.84" fill="#a8282e"/>
<rect x="431.09" y="584.69" width="1.01" height="1.11" fill="#a8282e"/>
<rect x="433.59" y="585.09" width="0.81" height="0.71" fill="#a8282e"/>
<rect x="434.79" y="584.70" width="1.45" height="1.10" fill="#a8282e"/>
<rect x="437.37" y="584.73" width="0.52" height="1.07" fill="#a8282e"/>
<rect x="438.95" y="583.89" width="0.99" height="1.91" fill="#a8282e"/>
<rect x="441.23" y="584.84" width="0.78" height="0.96" fill="#a8282e"/>
<rect x="443.50" y="584.08" width="0.95" height="1.72" fill="#a8282e"/>
<rect x="445.81" y="584.89" width="1.44" height="0.91" fill="#a8282e"/>
<rect x="447.75" y="584.42" width="0.70" height="1.38" fill="#a8282e"/>
<rect x="449.47" y="584.77" width="1.22" height="1.03" fill="#a8282e"/>
<rect x="451.73" y="584.94" width="1.05" height="0.86" fill="#a8282e"/>
<rect x="456.12" y="584.83" width="1.39" height="0.97" fill="#a8282e"/>
<rect x="458.50" y="584.40" width="1.57" height="1.40" fill="#a8282e"/>
<rect x="460.83" y="583.57" width="1.09" height="2.23" fill="#a8282e"/>
<rect x="463.18" y="585.07" width="1.30" height="0.73" fill="#a8282e"/>
<rect x="465.11" y="584.41" width="0.95" height="1.39" fill="#a8282e"/>
<rect x="467.74" y="584.54" width="0.68" height="1.26" fill="#a8282e"/>
<rect x="103.20" y="582.30" width="0.60" height="3.50" fill="#a8282e"/>
<rect x="178.20" y="583.20" width="0.60" height="2.60" fill="#a8282e"/>
<rect x="314.20" y="583.30" width="0.60" height="2.50" fill="#a8282e"/>
<rect x="123.70" y="583.80" width="0.60" height="2.00" fill="#a8282e"/>
<line x1="94.5" y1="604.9" x2="471.4" y2="604.9" stroke="#40409a" stroke-width="1.0" stroke-opacity="0.75"/>
<rect x="94.50" y="603.78" width="1.56" height="1.22" fill="#40409a"/>
<rect x="100.06" y="603.80" width="0.69" height="1.20" fill="#40409a"/>
<rect x="101.44" y="602.95" width="0.67" height="2.05" fill="#40409a"/>
<rect x="102.75" y="604.14" width="1.51" height="0.86" fill="#40409a"/>
<rect x="105.19" y="604.05" width="0.49" height="0.95" fill="#40409a"/>
<rect x="109.59" y="604.20" width="1.53" height="0.80" fill="#40409a"/>
<rect x="112.83" y="604.10" width="1.23" height="0.90" fill="#40409a"/>
<rect x="115.69" y="604.27" width="0.52" height="0.73" fill="#40409a"/>
<rect x="117.77" y="603.95" width="1.07" height="1.05" fill="#40409a"/>
<rect x="120.56" y="604.08" width="0.82" height="0.92" fill="#40409a"/>
<rect x="122.16" y="603.99" width="1.49" height="1.01" fill="#40409a"/>
<rect x="125.31" y="604.22" width="1.36" height="0.78" fill="#40409a"/>
<rect x="127.53" y="603.11" width="1.41" height="1.89" fill="#40409a"/>
<rect x="129.30" y="603.81" width="1.47" height="1.19" fill="#40409a"/>
<rect x="131.79" y="604.26" width="1.57" height="0.74" fill="#40409a"/>
<rect x="134.52" y="603.88" width="0.95" height="1.12" fill="#40409a"/>
<rect x="136.16" y="604.07" width="0.50" height="0.93" fill="#40409a"/>
<rect x="137.53" y="603.81" width="0.82" height="1.19" fill="#40409a"/>
<rect x="140.82" y="604.03" width="1.20" height="0.97" fill="#40409a"/>
<rect x="144.57" y="603.88" width="0.78" height="1.12" fill="#40409a"/>
<rect x="146.15" y="603.70" width="0.47" height="1.30" fill="#40409a"/>
<rect x="148.98" y="603.78" width="0.52" height="1.22" fill="#40409a"/>
<rect x="150.53" y="603.75" width="1.49" height="1.25" fill="#40409a"/>
<rect x="153.49" y="603.71" width="0.59" height="1.29" fill="#40409a"/>
<rect x="155.24" y="604.04" width="1.06" height="0.96" fill="#40409a"/>
<rect x="157.44" y="603.93" width="1.02" height="1.07" fill="#40409a"/>
<rect x="162.03" y="604.11" width="1.19" height="0.89" fill="#40409a"/>
<rect x="163.93" y="603.66" width="1.60" height="1.34" fill="#40409a"/>
<rect x="167.01" y="604.16" width="0.52" height="0.84" fill="#40409a"/>
<rect x="169.02" y="603.68" width="1.27" height="1.32" fill="#40409a"/>
<rect x="170.82" y="604.01" width="1.44" height="0.99" fill="#40409a"/>
<rect x="173.87" y="603.95" width="0.85" height="1.05" fill="#40409a"/>
<rect x="175.73" y="604.00" width="0.96" height="1.00" fill="#40409a"/>
<rect x="178.38" y="603.64" width="1.57" height="1.36" fill="#40409a"/>
<rect x="183.45" y="603.98" width="0.95" height="1.02" fill="#40409a"/>
<rect x="185.88" y="604.02" width="0.87" height="0.98" fill="#40409a"/>
<rect x="188.19" y="603.46" width="0.60" height="1.54" fill="#40409a"/>
<rect x="190.55" y="604.15" width="1.09" height="0.85" fill="#40409a"/>
<rect x="193.07" y="603.81" width="1.01" height="1.19" fill="#40409a"/>
<rect x="197.95" y="603.17" width="0.54" height="1.83" fill="#40409a"/>
<rect x="199.66" y="603.84" width="1.51" height="1.16" fill="#40409a"/>
<rect x="201.69" y="603.21" width="1.54" height="1.79" fill="#40409a"/>
<rect x="204.12" y="603.73" width="0.91" height="1.27" fill="#40409a"/>
<rect x="208.65" y="603.61" width="0.79" height="1.39" fill="#40409a"/>
<rect x="210.74" y="604.14" width="0.52" height="0.86" fill="#40409a"/>
<rect x="211.89" y="603.82" width="1.19" height="1.18" fill="#40409a"/>
<rect x="213.77" y="603.95" width="0.69" height="1.05" fill="#40409a"/>
<rect x="215.11" y="603.81" width="1.37" height="1.19" fill="#40409a"/>
<rect x="217.76" y="603.93" width="1.54" height="1.07" fill="#40409a"/>
<rect x="220.78" y="603.73" width="1.25" height="1.27" fill="#40409a"/>
<rect x="223.49" y="604.02" width="0.67" height="0.98" fill="#40409a"/>
<rect x="225.34" y="604.05" width="1.10" height="0.95" fill="#40409a"/>
<rect x="232.68" y="604.27" width="0.55" height="0.73" fill="#40409a"/>
<rect x="234.43" y="604.16" width="1.36" height="0.84" fill="#40409a"/>
<rect x="239.46" y="603.95" width="1.56" height="1.05" fill="#40409a"/>
<rect x="242.20" y="603.82" width="1.35" height="1.18" fill="#40409a"/>
<rect x="247.23" y="603.84" width="1.51" height="1.16" fill="#40409a"/>
<rect x="251.30" y="603.73" width="1.49" height="1.27" fill="#40409a"/>
<rect x="253.50" y="603.71" width="0.59" height="1.29" fill="#40409a"/>
<rect x="255.51" y="603.86" width="0.88" height="1.14" fill="#40409a"/>
<rect x="258.08" y="603.79" width="1.20" height="1.21" fill="#40409a"/>
<rect x="259.83" y="603.88" width="1.50" height="1.12" fill="#40409a"/>
<rect x="261.91" y="604.00" width="0.56" height="1.00" fill="#40409a"/>
<rect x="263.49" y="603.85" width="1.23" height="1.15" fill="#40409a"/>
<rect x="266.28" y="603.55" width="1.60" height="1.45" fill="#40409a"/>
<rect x="268.68" y="603.56" width="0.60" height="1.44" fill="#40409a"/>
<rect x="270.67" y="603.21" width="0.95" height="1.79" fill="#40409a"/>
<rect x="272.17" y="603.99" width="0.69" height="1.01" fill="#40409a"/>
<rect x="274.48" y="604.04" width="1.21" height="0.96" fill="#40409a"/>
<rect x="276.41" y="604.21" width="1.49" height="0.79" fill="#40409a"/>
<rect x="279.69" y="604.05" width="0.65" height="0.95" fill="#40409a"/>
<rect x="281.74" y="603.79" width="1.23" height="1.21" fill="#40409a"/>
<rect x="287.41" y="603.94" width="0.98" height="1.06" fill="#40409a"/>
<rect x="289.38" y="603.15" width="1.05" height="1.85" fill="#40409a"/>
<rect x="292.09" y="603.95" width="1.35" height="1.05" fill="#40409a"/>
<rect x="294.20" y="603.87" width="0.84" height="1.13" fill="#40409a"/>
<rect x="295.44" y="603.92" width="0.58" height="1.08" fill="#40409a"/>
<rect x="296.96" y="603.63" width="1.03" height="1.37" fill="#40409a"/>
<rect x="298.85" y="604.02" width="1.19" height="0.98" fill="#40409a"/>
<rect x="300.72" y="603.92" width="0.41" height="1.08" fill="#40409a"/>
<rect x="301.48" y="603.67" width="0.76" height="1.33" fill="#40409a"/>
<rect x="303.90" y="603.69" width="1.20" height="1.31" fill="#40409a"/>
<rect x="306.55" y="603.61" width="1.42" height="1.39" fill="#40409a"/>
<rect x="311.41" y="604.23" width="1.47" height="0.77" fill="#40409a"/>
<rect x="314.50" y="603.66" width="1.26" height="1.34" fill="#40409a"/>
<rect x="316.27" y="603.60" width="1.53" height="1.40" fill="#40409a"/>
<rect x="318.86" y="604.29" width="1.47" height="0.71" fill="#40409a"/>
<rect x="322.06" y="603.92" width="0.51" height="1.08" fill="#40409a"/>
<rect x="323.18" y="603.68" width="1.26" height="1.32" fill="#40409a"/>
<rect x="325.60" y="604.11" width="1.42" height="0.89" fill="#40409a"/>
<rect x="327.58" y="603.62" width="1.18" height="1.38" fill="#40409a"/>
<rect x="330.38" y="603.50" width="0.46" height="1.50" fill="#40409a"/>
<rect x="331.71" y="603.88" width="1.55" height="1.12" fill="#40409a"/>
<rect x="334.43" y="604.08" width="0.68" height="0.92" fill="#40409a"/>
<rect x="335.62" y="604.10" width="0.71" height="0.90" fill="#40409a"/>
<rect x="337.92" y="603.65" width="1.33" height="1.35" fill="#40409a"/>
<rect x="340.19" y="603.96" width="1.05" height="1.04" fill="#40409a"/>
<rect x="341.84" y="603.99" width="0.65" height="1.01" fill="#40409a"/>
<rect x="343.64" y="603.98" width="0.49" height="1.02" fill="#40409a"/>
<rect x="344.65" y="603.65" width="1.19" height="1.35" fill="#40409a"/>
<rect x="349.03" y="603.86" width="0.67" height="1.14" fill="#40409a"/>
<rect x="350.64" y="603.61" width="0.63" height="1.39" fill="#40409a"/>
<rect x="352.82" y="603.74" width="1.33" height="1.26" fill="#40409a"/>
<rect x="355.38" y="603.65" width="0.87" height="1.35" fill="#40409a"/>
<rect x="357.71" y="603.67" width="0.78" height="1.33" fill="#40409a"/>
<rect x="361.84" y="603.69" width="0.59" height="1.31" fill="#40409a"/>
<rect x="363.95" y="604.21" width="0.49" height="0.79" fill="#40409a"/>
<rect x="366.10" y="603.71" width="0.44" height="1.29" fill="#40409a"/>
<rect x="367.52" y="603.01" width="1.40" height="1.99" fill="#40409a"/>
<rect x="369.28" y="603.96" width="1.29" height="1.04" fill="#40409a"/>
<rect x="373.23" y="603.78" width="0.44" height="1.22" fill="#40409a"/>
<rect x="374.07" y="602.92" width="1.52" height="2.08" fill="#40409a"/>
<rect x="375.90" y="604.14" width="0.93" height="0.86" fill="#40409a"/>
<rect x="378.41" y="603.58" width="1.17" height="1.42" fill="#40409a"/>
<rect x="381.08" y="604.14" width="1.46" height="0.86" fill="#40409a"/>
<rect x="383.22" y="603.79" width="0.88" height="1.21" fill="#40409a"/>
<rect x="384.55" y="604.08" width="0.88" height="0.92" fill="#40409a"/>
<rect x="386.12" y="603.61" width="0.92" height="1.39" fill="#40409a"/>
<rect x="388.20" y="604.10" width="0.65" height="0.90" fill="#40409a"/>
<rect x="390.42" y="603.06" width="0.77" height="1.94" fill="#40409a"/>
<rect x="392.81" y="603.98" width="0.73" height="1.02" fill="#40409a"/>
<rect x="396.32" y="604.20" width="1.32" height="0.80" fill="#40409a"/>
<rect x="399.39" y="603.82" width="0.54" height="1.18" fill="#40409a"/>
<rect x="401.44" y="603.88" width="0.63" height="1.12" fill="#40409a"/>
<rect x="402.68" y="603.78" width="0.91" height="1.22" fill="#40409a"/>
<rect x="404.09" y="604.00" width="0.66" height="1.00" fill="#40409a"/>
<rect x="405.35" y="603.99" width="0.73" height="1.01" fill="#40409a"/>
<rect x="408.70" y="604.24" width="1.04" height="0.76" fill="#40409a"/>
<rect x="410.68" y="604.05" width="1.06" height="0.95" fill="#40409a"/>
<rect x="412.22" y="604.17" width="1.24" height="0.83" fill="#40409a"/>
<rect x="414.52" y="603.96" width="0.99" height="1.04" fill="#40409a"/>
<rect x="417.29" y="604.05" width="1.44" height="0.95" fill="#40409a"/>
<rect x="422.08" y="604.14" width="1.34" height="0.86" fill="#40409a"/>
<rect x="426.34" y="604.03" width="0.79" height="0.97" fill="#40409a"/>
<rect x="427.59" y="603.95" width="1.04" height="1.05" fill="#40409a"/>
<rect x="429.33" y="604.01" width="1.18" height="0.99" fill="#40409a"/>
<rect x="435.96" y="604.14" width="1.29" height="0.86" fill="#40409a"/>
<rect x="438.57" y="603.66" width="0.50" height="1.34" fill="#40409a"/>
<rect x="439.96" y="603.78" width="0.93" height="1.22" fill="#40409a"/>
<rect x="442.13" y="603.69" width="0.68" height="1.31" fill="#40409a"/>
<rect x="444.58" y="603.92" width="1.46" height="1.08" fill="#40409a"/>
<rect x="447.02" y="604.05" width="0.72" height="0.95" fill="#40409a"/>
<rect x="451.08" y="604.25" width="0.86" height="0.75" fill="#40409a"/>
<rect x="453.42" y="603.72" width="0.78" height="1.28" fill="#40409a"/>
<rect x="454.98" y="604.20" width="0.62" height="0.80" fill="#40409a"/>
<rect x="456.31" y="603.70" width="1.21" height="1.30" fill="#40409a"/>
<rect x="459.00" y="603.88" width="0.58" height="1.12" fill="#40409a"/>
<rect x="460.69" y="603.78" width="1.16" height="1.22" fill="#40409a"/>
<rect x="462.21" y="603.82" width="1.32" height="1.18" fill="#40409a"/>
<rect x="464.71" y="604.18" width="1.16" height="0.82" fill="#40409a"/>
<rect x="469.42" y="604.21" width="0.65" height="0.79" fill="#40409a"/>
<rect x="103.20" y="602.80" width="0.60" height="2.20" fill="#40409a"/>
<rect x="123.70" y="603.20" width="0.60" height="1.80" fill="#40409a"/>
<rect x="178.20" y="602.50" width="0.60" height="2.50" fill="#40409a"/>
<line x1="94.5" y1="624.1999999999999" x2="471.4" y2="624.1999999999999" stroke="#40409a" stroke-width="1.0" stroke-opacity="0.75"/>
<rect x="94.50" y="623.31" width="0.83" height="0.99" fill="#40409a"/>
<rect x="96.25" y="623.16" width="1.19" height="1.14" fill="#40409a"/>
<rect x="98.19" y="623.08" width="0.80" height="1.22" fill="#40409a"/>
<rect x="100.48" y="622.97" width="1.55" height="1.33" fill="#40409a"/>
<rect x="103.32" y="623.16" width="0.43" height="1.14" fill="#40409a"/>
<rect x="104.39" y="623.05" width="0.77" height="1.25" fill="#40409a"/>
<rect x="106.10" y="622.92" width="1.17" height="1.38" fill="#40409a"/>
<rect x="109.03" y="623.23" width="1.40" height="1.07" fill="#40409a"/>
<rect x="110.96" y="623.55" width="0.77" height="0.75" fill="#40409a"/>
<rect x="114.55" y="623.17" width="1.35" height="1.13" fill="#40409a"/>
<rect x="116.24" y="623.32" width="0.57" height="0.98" fill="#40409a"/>
<rect x="117.92" y="623.38" width="1.19" height="0.92" fill="#40409a"/>
<rect x="120.84" y="623.03" width="1.34" height="1.27" fill="#40409a"/>
<rect x="122.63" y="623.59" width="0.51" height="0.71" fill="#40409a"/>
<rect x="124.82" y="622.94" width="0.54" height="1.36" fill="#40409a"/>
<rect x="125.89" y="623.48" width="1.17" height="0.82" fill="#40409a"/>
<rect x="128.14" y="623.50" width="1.50" height="0.80" fill="#40409a"/>
<rect x="130.00" y="623.28" width="0.96" height="1.02" fill="#40409a"/>
<rect x="131.30" y="622.95" width="0.64" height="1.35" fill="#40409a"/>
<rect x="132.40" y="623.52" width="0.66" height="0.78" fill="#40409a"/>
<rect x="134.01" y="622.98" width="1.41" height="1.32" fill="#40409a"/>
<rect x="136.37" y="623.13" width="0.67" height="1.17" fill="#40409a"/>
<rect x="138.63" y="623.58" width="0.65" height="0.72" fill="#40409a"/>
<rect x="140.02" y="622.90" width="0.55" height="1.40" fill="#40409a"/>
<rect x="141.62" y="623.19" width="1.04" height="1.11" fill="#40409a"/>
<rect x="143.69" y="623.13" width="0.50" height="1.17" fill="#40409a"/>
<rect x="144.96" y="623.09" width="0.95" height="1.21" fill="#40409a"/>
<rect x="146.71" y="623.32" width="0.61" height="0.98" fill="#40409a"/>
<rect x="147.96" y="623.16" width="0.94" height="1.14" fill="#40409a"/>
<rect x="149.79" y="622.97" width="1.15" height="1.33" fill="#40409a"/>
<rect x="152.18" y="622.40" width="0.58" height="1.90" fill="#40409a"/>
<rect x="153.81" y="622.44" width="1.41" height="1.86" fill="#40409a"/>
<rect x="156.64" y="623.17" width="1.50" height="1.13" fill="#40409a"/>
<rect x="159.20" y="623.36" width="0.66" height="0.94" fill="#40409a"/>
<rect x="164.17" y="622.93" width="1.60" height="1.37" fill="#40409a"/>
<rect x="168.13" y="623.47" width="0.64" height="0.83" fill="#40409a"/>
<rect x="169.19" y="623.12" width="0.44" height="1.18" fill="#40409a"/>
<rect x="171.09" y="623.52" width="0.90" height="0.78" fill="#40409a"/>
<rect x="172.90" y="623.46" width="0.55" height="0.84" fill="#40409a"/>
<rect x="175.65" y="623.31" width="1.34" height="0.99" fill="#40409a"/>
<rect x="178.12" y="622.85" width="0.45" height="1.45" fill="#40409a"/>
<rect x="179.50" y="623.56" width="1.55" height="0.74" fill="#40409a"/>
<rect x="181.95" y="622.95" width="1.42" height="1.35" fill="#40409a"/>
<rect x="185.12" y="623.05" width="0.60" height="1.25" fill="#40409a"/>
<rect x="186.94" y="623.01" width="1.57" height="1.29" fill="#40409a"/>
<rect x="190.16" y="622.92" width="1.02" height="1.38" fill="#40409a"/>
<rect x="192.40" y="623.50" width="1.10" height="0.80" fill="#40409a"/>
<rect x="194.23" y="623.54" width="1.13" height="0.76" fill="#40409a"/>
<rect x="199.15" y="623.03" width="1.27" height="1.27" fill="#40409a"/>
<rect x="201.11" y="622.93" width="0.77" height="1.37" fill="#40409a"/>
<rect x="203.73" y="622.92" width="1.40" height="1.38" fill="#40409a"/>
<rect x="207.83" y="623.06" width="1.51" height="1.24" fill="#40409a"/>
<rect x="210.89" y="623.06" width="1.56" height="1.24" fill="#40409a"/>
<rect x="213.01" y="623.07" width="0.90" height="1.23" fill="#40409a"/>
<rect x="214.51" y="623.54" width="1.28" height="0.76" fill="#40409a"/>
<rect x="216.12" y="623.41" width="0.52" height="0.89" fill="#40409a"/>
<rect x="217.68" y="623.55" width="0.83" height="0.75" fill="#40409a"/>
<rect x="221.20" y="623.47" width="0.77" height="0.83" fill="#40409a"/>
<rect x="223.69" y="623.15" width="1.56" height="1.15" fill="#40409a"/>
<rect x="226.94" y="623.54" width="1.31" height="0.76" fill="#40409a"/>
<rect x="229.96" y="622.86" width="1.49" height="1.44" fill="#40409a"/>
<rect x="232.94" y="623.28" width="0.88" height="1.02" fill="#40409a"/>
<rect x="234.14" y="622.77" width="0.43" height="1.53" fill="#40409a"/>
<rect x="235.75" y="623.23" width="1.03" height="1.07" fill="#40409a"/>
<rect x="237.15" y="622.91" width="0.72" height="1.39" fill="#40409a"/>
<rect x="238.36" y="623.31" width="1.40" height="0.99" fill="#40409a"/>
<rect x="243.45" y="623.16" width="1.38" height="1.14" fill="#40409a"/>
<rect x="245.36" y="622.51" width="0.66" height="1.79" fill="#40409a"/>
<rect x="246.52" y="623.04" width="1.10" height="1.26" fill="#40409a"/>
<rect x="249.33" y="622.96" width="0.73" height="1.34" fill="#40409a"/>
<rect x="250.83" y="623.57" width="0.80" height="0.73" fill="#40409a"/>
<rect x="252.15" y="623.52" width="0.71" height="0.78" fill="#40409a"/>
<rect x="253.23" y="623.41" width="1.16" height="0.89" fill="#40409a"/>
<rect x="255.79" y="623.36" width="1.56" height="0.94" fill="#40409a"/>
<rect x="258.18" y="623.30" width="1.20" height="1.00" fill="#40409a"/>
<rect x="261.15" y="622.50" width="1.37" height="1.80" fill="#40409a"/>
<rect x="263.79" y="622.93" width="0.51" height="1.37" fill="#40409a"/>
<rect x="265.71" y="623.04" width="1.07" height="1.26" fill="#40409a"/>
<rect x="267.40" y="623.23" width="1.28" height="1.07" fill="#40409a"/>
<rect x="269.62" y="622.93" width="0.75" height="1.37" fill="#40409a"/>
<rect x="271.86" y="623.03" width="0.85" height="1.27" fill="#40409a"/>
<rect x="274.44" y="623.53" width="1.37" height="0.77" fill="#40409a"/>
<rect x="277.11" y="623.58" width="0.59" height="0.72" fill="#40409a"/>
<rect x="278.46" y="623.11" width="1.07" height="1.19" fill="#40409a"/>
<rect x="280.43" y="623.22" width="1.56" height="1.08" fill="#40409a"/>
<rect x="282.74" y="623.52" width="1.26" height="0.78" fill="#40409a"/>
<rect x="285.04" y="622.95" width="0.57" height="1.35" fill="#40409a"/>
<rect x="286.56" y="623.46" width="1.31" height="0.84" fill="#40409a"/>
<rect x="288.27" y="623.53" width="1.13" height="0.77" fill="#40409a"/>
<rect x="290.06" y="622.25" width="1.19" height="2.05" fill="#40409a"/>
<rect x="292.45" y="622.93" width="1.06" height="1.37" fill="#40409a"/>
<rect x="294.36" y="622.98" width="0.81" height="1.32" fill="#40409a"/>
<rect x="296.61" y="623.30" width="0.92" height="1.00" fill="#40409a"/>
<rect x="298.32" y="623.43" width="1.39" height="0.87" fill="#40409a"/>
<rect x="303.64" y="623.17" width="1.26" height="1.13" fill="#40409a"/>
<rect x="305.65" y="622.96" width="1.03" height="1.34" fill="#40409a"/>
<rect x="307.96" y="623.36" width="1.38" height="0.94" fill="#40409a"/>
<rect x="309.83" y="623.23" width="1.22" height="1.07" fill="#40409a"/>
<rect x="314.11" y="622.94" width="0.59" height="1.36" fill="#40409a"/>
<rect x="315.97" y="623.03" width="0.57" height="1.27" fill="#40409a"/>
<rect x="317.90" y="623.02" width="0.77" height="1.28" fill="#40409a"/>
<rect x="319.72" y="622.93" width="1.60" height="1.37" fill="#40409a"/>
<rect x="322.50" y="622.69" width="0.46" height="1.61" fill="#40409a"/>
<rect x="324.71" y="623.36" width="0.90" height="0.94" fill="#40409a"/>
<rect x="325.96" y="623.10" width="1.45" height="1.20" fill="#40409a"/>
<rect x="328.28" y="623.16" width="1.08" height="1.14" fill="#40409a"/>
<rect x="332.51" y="623.25" width="0.77" height="1.05" fill="#40409a"/>
<rect x="334.01" y="623.46" width="1.31" height="0.84" fill="#40409a"/>
<rect x="336.70" y="623.38" width="0.87" height="0.92" fill="#40409a"/>
<rect x="338.85" y="623.16" width="1.08" height="1.14" fill="#40409a"/>
<rect x="341.69" y="623.56" width="1.07" height="0.74" fill="#40409a"/>
<rect x="343.56" y="623.18" width="0.63" height="1.12" fill="#40409a"/>
<rect x="344.66" y="623.07" width="1.20" height="1.23" fill="#40409a"/>
<rect x="347.21" y="623.09" width="0.82" height="1.21" fill="#40409a"/>
<rect x="348.51" y="622.29" width="0.72" height="2.01" fill="#40409a"/>
<rect x="349.75" y="623.01" width="0.46" height="1.29" fill="#40409a"/>
<rect x="350.77" y="623.33" width="0.59" height="0.97" fill="#40409a"/>
<rect x="351.82" y="623.59" width="1.07" height="0.71" fill="#40409a"/>
<rect x="354.35" y="622.93" width="1.20" height="1.37" fill="#40409a"/>
<rect x="355.87" y="623.45" width="1.46" height="0.85" fill="#40409a"/>
<rect x="358.46" y="623.19" width="1.19" height="1.11" fill="#40409a"/>
<rect x="360.04" y="623.60" width="0.60" height="0.70" fill="#40409a"/>
<rect x="361.35" y="623.60" width="1.11" height="0.70" fill="#40409a"/>
<rect x="363.84" y="623.45" width="0.46" height="0.85" fill="#40409a"/>
<rect x="367.81" y="623.40" width="1.20" height="0.90" fill="#40409a"/>
<rect x="370.77" y="623.23" width="1.24" height="1.07" fill="#40409a"/>
<rect x="373.33" y="622.57" width="1.21" height="1.73" fill="#40409a"/>
<rect x="375.62" y="623.31" width="0.53" height="0.99" fill="#40409a"/>
<rect x="376.82" y="623.14" width="0.60" height="1.16" fill="#40409a"/>
<rect x="378.44" y="622.32" width="1.55" height="1.98" fill="#40409a"/>
<rect x="381.16" y="622.73" width="0.98" height="1.57" fill="#40409a"/>
<rect x="383.76" y="622.14" width="0.67" height="2.16" fill="#40409a"/>
<rect x="385.11" y="622.66" width="1.44" height="1.64" fill="#40409a"/>
<rect x="387.61" y="623.15" width="1.52" height="1.15" fill="#40409a"/>
<rect x="390.23" y="623.40" width="0.81" height="0.90" fill="#40409a"/>
<rect x="394.70" y="622.98" width="0.58" height="1.32" fill="#40409a"/>
<rect x="396.68" y="623.39" width="0.76" height="0.91" fill="#40409a"/>
<rect x="398.49" y="623.11" width="1.50" height="1.19" fill="#40409a"/>
<rect x="401.63" y="623.43" width="0.42" height="0.87" fill="#40409a"/>
<rect x="403.13" y="623.00" width="1.21" height="1.30" fill="#40409a"/>
<rect x="409.81" y="623.36" width="1.36" height="0.94" fill="#40409a"/>
<rect x="412.38" y="622.98" width="1.09" height="1.32" fill="#40409a"/>
<rect x="417.01" y="622.90" width="0.83" height="1.40" fill="#40409a"/>
<rect x="419.33" y="622.98" width="0.94" height="1.32" fill="#40409a"/>
<rect x="421.56" y="623.49" width="0.75" height="0.81" fill="#40409a"/>
<rect x="426.97" y="623.22" width="0.69" height="1.08" fill="#40409a"/>
<rect x="430.38" y="623.50" width="0.73" height="0.80" fill="#40409a"/>
<rect x="432.46" y="622.94" width="0.77" height="1.36" fill="#40409a"/>
<rect x="434.45" y="623.08" width="0.90" height="1.22" fill="#40409a"/>
<rect x="436.31" y="623.16" width="0.79" height="1.14" fill="#40409a"/>
<rect x="438.58" y="623.33" width="1.20" height="0.97" fill="#40409a"/>
<rect x="440.93" y="622.91" width="1.17" height="1.39" fill="#40409a"/>
<rect x="443.20" y="623.08" width="1.57" height="1.22" fill="#40409a"/>
<rect x="446.43" y="623.08" width="0.86" height="1.22" fill="#40409a"/>
<rect x="448.51" y="623.27" width="1.02" height="1.03" fill="#40409a"/>
<rect x="450.96" y="623.02" width="1.58" height="1.28" fill="#40409a"/>
<rect x="453.46" y="623.27" width="1.19" height="1.03" fill="#40409a"/>
<rect x="455.48" y="622.98" width="1.45" height="1.32" fill="#40409a"/>
<rect x="458.01" y="623.13" width="0.44" height="1.17" fill="#40409a"/>
<rect x="460.06" y="623.58" width="1.50" height="0.72" fill="#40409a"/>
<rect x="461.99" y="622.91" width="1.47" height="1.39" fill="#40409a"/>
<rect x="464.93" y="622.94" width="0.93" height="1.36" fill="#40409a"/>
<rect x="466.28" y="623.39" width="0.44" height="0.91" fill="#40409a"/>
<rect x="467.64" y="623.39" width="1.03" height="0.91" fill="#40409a"/>
<rect x="469.24" y="623.58" width="1.34" height="0.72" fill="#40409a"/>
<rect x="113.50" y="619.10" width="0.60" height="5.20" fill="#40409a"/>
<rect x="178.00" y="618.40" width="0.60" height="5.90" fill="#40409a"/>
<rect x="448.30" y="619.70" width="0.60" height="4.60" fill="#40409a"/>
<rect x="103.70" y="621.90" width="0.60" height="2.40" fill="#40409a"/>
<rect x="312.70" y="621.90" width="0.60" height="2.40" fill="#40409a"/>
<rect x="95.00" y="625.50" width="1.00" height="0.80" fill="#d070b0"/>
<rect x="130.00" y="625.20" width="1.00" height="0.80" fill="#d070b0"/>
<rect x="150.00" y="625.40" width="1.00" height="0.80" fill="#d070b0"/>
<rect x="178.50" y="631.50" width="1.00" height="0.80" fill="#d070b0"/>
<rect x="238.00" y="625.50" width="1.00" height="0.80" fill="#d070b0"/>
<rect x="400.00" y="625.30" width="1.00" height="0.80" fill="#d070b0"/>
<rect x="92.7" y="510.8" width="24.0" height="127.2" rx="1.6" fill="none" stroke="#336ca2" stroke-width="1.45"/>
<rect x="166.2" y="510.8" width="24.200000000000017" height="127.2" rx="1.6" fill="none" stroke="#336ca2" stroke-width="1.45"/>
<rect x="295.8" y="510.8" width="31.69999999999999" height="127.2" rx="1.6" fill="none" stroke="#336ca2" stroke-width="1.45"/>
<rect x="0.6" y="0.6" width="518.8" height="643.8" fill="none" stroke="#000" stroke-width="1.3"/>
</svg>
</body></html>
